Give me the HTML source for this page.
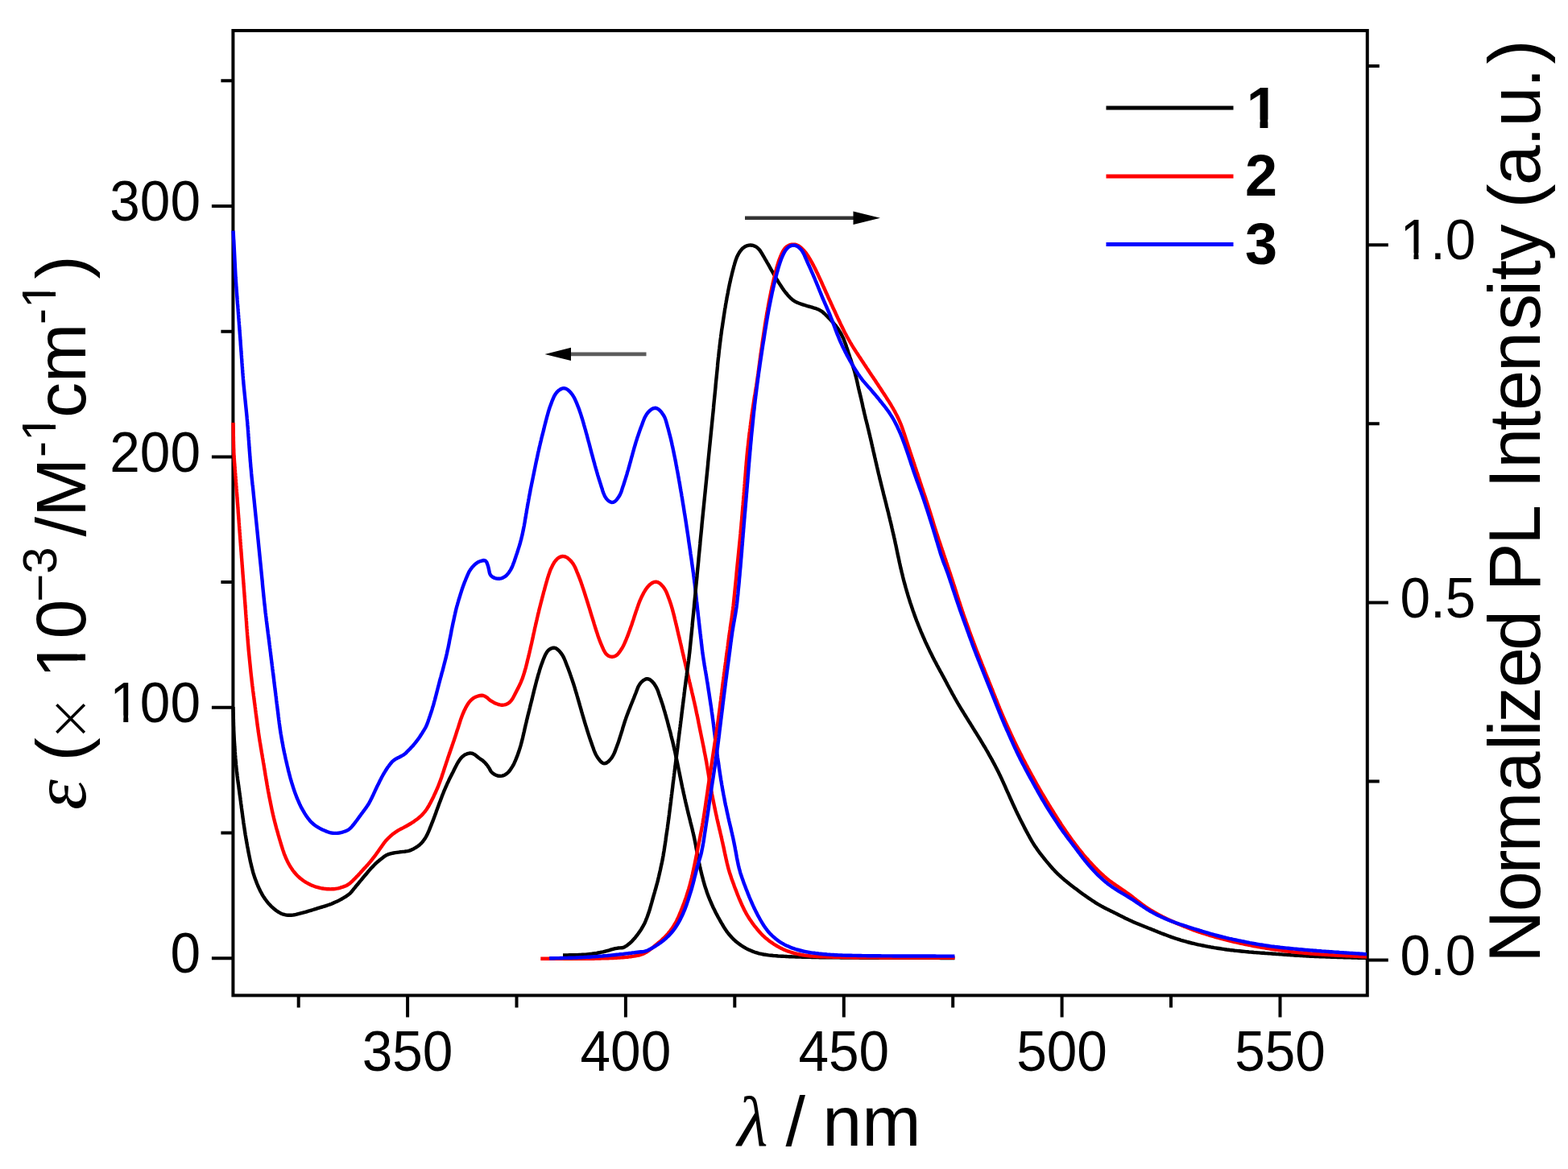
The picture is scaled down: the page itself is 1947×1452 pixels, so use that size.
<!DOCTYPE html>
<html><head><meta charset="utf-8"><title>Absorption and emission spectra</title>
<style>
html,body{margin:0;padding:0;background:#fff;}
body{width:1947px;height:1452px;overflow:hidden;}
svg{display:block;}
svg{font-family:"Liberation Sans",Arial,sans-serif;} text{fill:#000;}
</style></head><body>
<svg width="1947" height="1452" viewBox="0 0 1947 1452">
<defs><clipPath id="c1r70"><rect x="-10.25" y="-75.20" width="61.52" height="66.89"/><rect x="17.60" y="-75.20" width="6.19" height="78.61"/></clipPath><clipPath id="c1b72"><rect x="-10.55" y="-77.34" width="63.28" height="66.83"/><rect x="16.80" y="-77.34" width="9.88" height="80.86"/></clipPath><clipPath id="c1r88"><rect x="-12.89" y="-94.53" width="77.34" height="84.09"/><rect x="22.13" y="-94.53" width="7.78" height="98.83"/></clipPath><clipPath id="c1r60"><rect x="-8.79" y="-64.45" width="52.73" height="57.33"/><rect x="15.09" y="-64.45" width="5.30" height="67.38"/></clipPath></defs>
<rect x="0" y="0" width="1947" height="1452" fill="#fff"/>
<rect x="289.4" y="38.0" width="1408.4" height="1198.4" fill="none" stroke="#000" stroke-width="4.0"/>
<path d="M262.9 1190.2H289.4 M262.9 878.8H289.4 M262.9 567.4H289.4 M262.9 256.0H289.4 M274.4 1034.5H289.4 M274.4 723.1H289.4 M274.4 411.7H289.4 M274.4 100.3H289.4 M1697.8 1192.6H1723.8 M1697.8 748.4H1723.8 M1697.8 304.2H1723.8 M1697.8 970.5H1712.8 M1697.8 526.3H1712.8 M1697.8 82.1H1712.8 M506.1 1236.4V1263.4 M776.9 1236.4V1263.4 M1047.8 1236.4V1263.4 M1318.6 1236.4V1263.4 M1589.5 1236.4V1263.4 M370.7 1236.4V1251.4 M641.5 1236.4V1251.4 M912.3 1236.4V1251.4 M1183.2 1236.4V1251.4 M1454.0 1236.4V1251.4" stroke="#000" stroke-width="4" fill="none"/>
<g fill="none" stroke-linejoin="round" stroke-linecap="butt">
<path d="M289.5 878.0L289.5 880.0 289.6 882.0 289.6 884.0 289.7 886.0 289.7 888.0 289.8 890.0 289.8 892.0 289.9 894.0 289.9 896.0 290.0 898.0 290.0 900.0 290.1 902.0 290.2 904.0 290.2 906.0 290.3 908.0 290.4 910.0 290.5 912.0 290.6 914.0 290.7 916.0 290.8 918.0 290.9 920.0 291.0 922.0 291.2 924.0 291.3 926.0 291.4 928.0 291.6 930.0 291.7 931.9 291.8 933.9 292.0 935.9 292.1 937.9 292.3 939.9 292.4 941.9 292.6 943.9 292.8 945.9 293.0 947.9 293.1 949.9 293.3 951.9 293.5 953.9 293.7 955.9 293.9 957.8 294.2 959.8 294.4 961.8 294.6 963.8 294.9 965.8 295.1 967.8 295.4 969.8 295.6 971.7 295.9 973.7 296.2 975.7 296.5 977.7 296.7 979.7 297.0 981.6 297.3 983.6 297.5 985.6 297.8 987.6 298.1 989.6 298.4 991.6 298.6 993.5 298.9 995.5 299.1 997.5 299.4 999.5 299.7 1001.5 299.9 1003.5 300.2 1005.4 300.4 1007.4 300.7 1009.4 301.0 1011.4 301.2 1013.4 301.5 1015.3 301.8 1017.3 302.1 1019.3 302.3 1021.3 302.6 1023.3 302.9 1025.2 303.2 1027.2 303.5 1029.2 303.8 1031.2 304.1 1033.2 304.4 1035.1 304.7 1037.1 305.1 1039.1 305.4 1041.1 305.7 1043.0 306.1 1045.0 306.4 1047.0 306.8 1048.9 307.1 1050.9 307.5 1052.9 307.9 1054.8 308.2 1056.8 308.6 1058.8 309.0 1060.7 309.4 1062.7 309.8 1064.6 310.2 1066.6 310.6 1068.6 311.0 1070.5 311.5 1072.5 311.9 1074.4 312.4 1076.4 312.9 1078.3 313.4 1080.2 313.9 1082.2 314.4 1084.1 315.0 1086.0 315.6 1087.9 316.2 1089.8 316.9 1091.7 317.6 1093.6 318.3 1095.4 319.0 1097.3 319.8 1099.1 320.5 1101.0 321.4 1102.8 322.2 1104.6 323.1 1106.4 324.0 1108.2 325.0 1109.9 325.9 1111.7 327.0 1113.4 328.1 1115.0 329.2 1116.7 330.4 1118.3 331.6 1119.9 332.8 1121.4 334.2 1122.9 335.5 1124.4 336.9 1125.8 338.4 1127.2 339.9 1128.5 341.4 1129.7 343.0 1131.0 344.7 1132.1 346.3 1133.2 348.1 1134.2 349.9 1135.0 351.7 1135.7 353.7 1136.2 355.6 1136.6 357.6 1136.8 359.6 1136.8 361.6 1136.8 363.6 1136.6 365.6 1136.3 367.5 1135.9 369.5 1135.4 371.4 1134.9 373.3 1134.4 375.3 1133.9 377.2 1133.4 379.1 1132.9 381.0 1132.3 383.0 1131.7 384.9 1131.2 386.8 1130.6 388.7 1130.0 390.6 1129.4 392.5 1128.8 394.4 1128.2 396.3 1127.6 398.2 1127.0 400.2 1126.5 402.1 1125.9 404.0 1125.3 405.9 1124.7 407.8 1124.0 409.7 1123.4 411.5 1122.7 413.4 1121.9 415.2 1121.1 417.0 1120.3 418.8 1119.5 420.6 1118.6 422.4 1117.6 424.1 1116.7 425.9 1115.7 427.6 1114.7 429.3 1113.7 430.9 1112.5 432.5 1111.4 434.1 1110.1 435.5 1108.7 436.8 1107.3 438.1 1105.7 439.3 1104.1 440.6 1102.6 441.8 1101.0 443.1 1099.5 444.4 1098.0 445.7 1096.4 446.9 1094.9 448.2 1093.4 449.5 1091.8 450.8 1090.3 452.0 1088.7 453.3 1087.2 454.6 1085.7 455.9 1084.2 457.2 1082.6 458.5 1081.1 459.8 1079.6 461.2 1078.1 462.5 1076.7 463.9 1075.2 465.3 1073.8 466.7 1072.4 468.2 1071.0 469.7 1069.8 471.2 1068.5 472.8 1067.3 474.4 1066.1 476.0 1064.8 477.6 1063.6 479.2 1062.5 481.0 1061.6 482.9 1060.9 484.8 1060.4 486.7 1059.9 488.7 1059.5 490.6 1059.2 492.6 1058.9 494.6 1058.6 496.5 1058.3 498.5 1058.1 500.5 1057.9 502.4 1057.7 504.4 1057.4 506.4 1057.1 508.3 1056.6 510.2 1055.9 512.0 1055.1 513.8 1054.2 515.6 1053.2 517.2 1052.2 518.9 1051.0 520.5 1049.8 521.9 1048.5 523.4 1047.1 524.7 1045.6 525.9 1044.0 527.1 1042.4 528.2 1040.7 529.2 1039.0 530.1 1037.2 531.0 1035.4 531.8 1033.6 532.6 1031.8 533.4 1029.9 534.1 1028.1 534.9 1026.2 535.6 1024.4 536.3 1022.5 537.1 1020.7 537.8 1018.8 538.5 1016.9 539.2 1015.0 539.9 1013.2 540.6 1011.3 541.3 1009.4 541.9 1007.5 542.6 1005.7 543.3 1003.8 544.0 1001.9 544.7 1000.0 545.4 998.1 546.1 996.3 546.8 994.4 547.5 992.5 548.2 990.7 548.9 988.8 549.6 986.9 550.4 985.1 551.1 983.2 551.9 981.4 552.7 979.5 553.5 977.7 554.3 975.9 555.1 974.0 555.9 972.2 556.8 970.4 557.6 968.6 558.5 966.8 559.4 965.0 560.3 963.2 561.2 961.4 562.1 959.7 563.0 957.9 563.9 956.1 564.8 954.3 565.7 952.5 566.6 950.8 567.5 949.0 568.5 947.2 569.6 945.5 570.7 943.9 571.9 942.3 573.2 940.8 574.6 939.4 576.2 938.2 577.9 937.2 579.7 936.4 581.6 935.8 583.5 935.5 585.5 935.6 587.3 936.2 589.1 937.1 590.7 938.3 592.2 939.5 593.8 940.8 595.4 942.0 597.0 943.1 598.7 944.2 600.2 945.5 601.7 946.8 603.0 948.2 604.3 949.7 605.5 951.3 606.6 952.9 607.7 954.6 608.6 956.4 609.6 958.1 610.9 959.6 612.4 960.8 614.0 961.9 615.8 962.8 617.7 963.5 619.6 963.8 621.6 963.9 623.6 963.6 625.5 963.1 627.3 962.2 628.9 961.2 630.4 959.9 631.8 958.5 633.1 956.9 634.2 955.3 635.3 953.6 636.4 951.9 637.4 950.2 638.3 948.4 639.1 946.6 639.9 944.8 640.7 942.9 641.4 941.1 642.2 939.2 642.9 937.3 643.5 935.4 644.2 933.6 644.8 931.7 645.4 929.8 646.0 927.8 646.6 925.9 647.1 924.0 647.6 922.1 648.1 920.1 648.6 918.2 649.1 916.3 649.5 914.3 650.0 912.4 650.4 910.4 650.9 908.5 651.3 906.5 651.7 904.6 652.2 902.6 652.6 900.7 653.1 898.7 653.6 896.8 654.0 894.8 654.5 892.9 655.0 890.9 655.4 889.0 655.9 887.1 656.4 885.1 656.9 883.2 657.4 881.2 657.9 879.3 658.3 877.4 658.8 875.4 659.3 873.5 659.8 871.5 660.3 869.6 660.8 867.6 661.2 865.7 661.7 863.8 662.2 861.8 662.7 859.9 663.1 857.9 663.6 856.0 664.1 854.1 664.6 852.1 665.1 850.2 665.6 848.2 666.1 846.3 666.6 844.4 667.2 842.5 667.7 840.5 668.2 838.6 668.8 836.7 669.4 834.8 669.9 832.8 670.5 830.9 671.1 829.0 671.8 827.1 672.4 825.2 673.1 823.4 673.8 821.5 674.5 819.6 675.2 817.8 676.0 815.9 676.8 814.1 677.7 812.3 678.7 810.6 679.8 809.0 681.2 807.5 682.8 806.3 684.5 805.4 686.3 804.8 688.2 804.7 690.1 805.2 691.7 806.2 693.3 807.5 694.7 808.9 695.9 810.4 697.2 812.0 698.3 813.7 699.3 815.4 700.2 817.1 701.0 819.0 701.8 820.8 702.5 822.7 703.2 824.6 703.9 826.4 704.7 828.3 705.4 830.1 706.1 832.0 706.8 833.9 707.5 835.8 708.1 837.7 708.8 839.5 709.4 841.4 710.1 843.3 710.7 845.2 711.3 847.1 712.0 849.0 712.6 850.9 713.2 852.8 713.8 854.7 714.3 856.7 714.9 858.6 715.5 860.5 716.1 862.4 716.6 864.3 717.2 866.2 717.7 868.2 718.3 870.1 718.8 872.0 719.4 873.9 719.9 875.9 720.5 877.8 721.0 879.7 721.6 881.6 722.1 883.6 722.7 885.5 723.2 887.4 723.8 889.3 724.3 891.2 724.9 893.2 725.5 895.1 726.0 897.0 726.6 898.9 727.2 900.8 727.8 902.7 728.4 904.6 729.0 906.6 729.6 908.5 730.2 910.4 730.8 912.3 731.4 914.2 732.0 916.1 732.7 918.0 733.3 919.9 734.0 921.7 734.6 923.6 735.3 925.5 736.0 927.4 736.7 929.3 737.3 931.2 738.0 933.0 738.8 934.9 739.6 936.7 740.6 938.5 741.6 940.2 742.7 941.8 743.9 943.4 745.1 945.0 746.5 946.4 748.1 947.6 749.8 948.2 751.7 948.1 753.4 947.4 755.0 946.3 756.5 944.9 757.8 943.4 759.1 941.9 760.2 940.2 761.2 938.5 762.1 936.8 763.0 934.9 763.7 933.1 764.4 931.2 765.1 929.3 765.8 927.5 766.5 925.6 767.2 923.7 767.9 921.8 768.5 919.9 769.1 918.0 769.7 916.1 770.3 914.2 770.9 912.3 771.5 910.4 772.1 908.5 772.7 906.6 773.2 904.7 773.8 902.7 774.4 900.8 775.0 898.9 775.6 897.0 776.2 895.1 776.9 893.2 777.5 891.3 778.2 889.5 778.9 887.6 779.6 885.7 780.3 883.8 781.0 882.0 781.8 880.1 782.5 878.3 783.2 876.4 784.0 874.5 784.7 872.7 785.5 870.8 786.2 869.0 787.0 867.1 787.7 865.3 788.4 863.4 789.2 861.5 789.9 859.7 790.6 857.8 791.3 855.9 792.0 854.1 792.9 852.3 793.9 850.5 795.0 848.9 796.3 847.4 797.8 846.0 799.3 844.8 801.0 843.8 802.8 843.2 804.7 843.3 806.5 843.9 808.1 845.0 809.6 846.3 810.9 847.8 812.2 849.3 813.3 851.0 814.4 852.7 815.3 854.4 816.2 856.2 816.9 858.1 817.6 860.0 818.2 861.9 818.9 863.8 819.5 865.7 820.2 867.5 820.8 869.4 821.4 871.3 822.1 873.2 822.7 875.1 823.3 877.0 823.9 879.0 824.4 880.9 825.0 882.8 825.6 884.7 826.1 886.6 826.7 888.6 827.2 890.5 827.7 892.4 828.3 894.3 828.8 896.3 829.3 898.2 829.8 900.1 830.3 902.1 830.8 904.0 831.3 905.9 831.9 907.9 832.4 909.8 832.9 911.7 833.3 913.7 833.8 915.6 834.3 917.6 834.8 919.5 835.3 921.4 835.7 923.4 836.2 925.3 836.6 927.3 837.1 929.2 837.5 931.2 838.0 933.1 838.4 935.1 838.8 937.0 839.2 939.0 839.6 941.0 840.1 942.9 840.5 944.9 840.9 946.8 841.3 948.8 841.7 950.8 842.1 952.7 842.5 954.7 842.9 956.6 843.3 958.6 843.7 960.5 844.1 962.5 844.5 964.5 844.9 966.4 845.3 968.4 845.7 970.3 846.1 972.3 846.5 974.3 846.9 976.2 847.3 978.2 847.8 980.1 848.2 982.1 848.6 984.0 849.0 986.0 849.5 987.9 849.9 989.9 850.3 991.8 850.8 993.8 851.2 995.7 851.7 997.7 852.1 999.6 852.6 1001.6 853.1 1003.5 853.5 1005.5 854.0 1007.4 854.4 1009.4 854.9 1011.3 855.4 1013.3 855.9 1015.2 856.4 1017.1 856.9 1019.1 857.3 1021.0 857.8 1023.0 858.3 1024.9 858.8 1026.8 859.3 1028.8 859.8 1030.7 860.2 1032.7 860.7 1034.6 861.1 1036.6 861.6 1038.5 862.0 1040.5 862.4 1042.4 862.8 1044.4 863.2 1046.3 863.6 1048.3 864.0 1050.3 864.3 1052.2 864.7 1054.2 865.1 1056.2 865.5 1058.1 865.8 1060.1 866.2 1062.1 866.6 1064.0 866.9 1066.0 867.3 1067.9 867.7 1069.9 868.1 1071.9 868.5 1073.8 868.9 1075.8 869.4 1077.7 869.8 1079.7 870.3 1081.6 870.7 1083.6 871.2 1085.5 871.7 1087.5 872.2 1089.4 872.7 1091.3 873.2 1093.3 873.7 1095.2 874.3 1097.1 874.8 1099.0 875.4 1100.9 876.0 1102.8 876.7 1104.7 877.3 1106.6 877.9 1108.5 878.6 1110.4 879.3 1112.3 880.0 1114.2 880.8 1116.0 881.5 1117.9 882.3 1119.7 883.1 1121.5 883.9 1123.4 884.7 1125.2 885.5 1127.0 886.4 1128.8 887.3 1130.6 888.2 1132.4 889.1 1134.2 890.0 1135.9 891.0 1137.7 891.9 1139.5 892.9 1141.2 893.9 1143.0 894.8 1144.7 895.8 1146.4 896.9 1148.1 897.9 1149.9 898.9 1151.6 900.0 1153.3 901.1 1154.9 902.2 1156.6 903.4 1158.2 904.6 1159.8 905.9 1161.3 907.2 1162.8 908.5 1164.3 909.9 1165.7 911.3 1167.1 912.8 1168.5 914.3 1169.8 915.9 1171.0 917.5 1172.2 919.1 1173.4 920.7 1174.5 922.4 1175.6 924.1 1176.6 925.8 1177.6 927.6 1178.6 929.4 1179.5 931.2 1180.3 933.0 1181.1 934.9 1181.9 936.7 1182.5 938.6 1183.2 940.5 1183.7 942.5 1184.3 944.4 1184.7 946.4 1185.1 948.3 1185.5 950.3 1185.8 952.3 1186.1 954.2 1186.4 956.2 1186.6 958.2 1186.8 960.2 1187.0 962.2 1187.1 964.2 1187.3 966.2 1187.5 968.2 1187.6 970.2 1187.7 972.2 1187.8 974.2 1187.9 976.2 1188.0 978.2 1188.1 980.2 1188.2 982.2 1188.3 984.2 1188.4 986.2 1188.4 988.2 1188.5 990.2 1188.5 992.2 1188.6 994.1 1188.6 996.1 1188.7 998.1 1188.7 1000.1 1188.8 1002.1 1188.8 1004.1 1188.9 1006.1 1188.9 1008.1 1189.0 1010.1 1189.0 1012.1 1189.1 1014.1 1189.1 1016.1 1189.1 1018.1 1189.2 1020.1 1189.2 1022.1 1189.2 1024.1 1189.2 1026.1 1189.3 1028.1 1189.3 1030.1 1189.3 1032.1 1189.3 1034.1 1189.4 1036.1 1189.4 1038.1 1189.4 1040.1 1189.4 1042.1 1189.4 1044.1 1189.5 1046.1 1189.5 1048.1 1189.5 1050.1 1189.5 1052.1 1189.5 1054.1 1189.5 1056.1 1189.6 1058.1 1189.6 1060.1 1189.6 1062.1 1189.6 1064.1 1189.6 1066.1 1189.6 1068.1 1189.7 1070.1 1189.7 1072.1 1189.7 1074.1 1189.7 1076.1 1189.7 1078.1 1189.7 1080.1 1189.7 1082.1 1189.7 1084.1 1189.7 1086.1 1189.8 1088.1 1189.8 1090.1 1189.8 1092.1 1189.8 1094.1 1189.8 1096.1 1189.8 1098.1 1189.8 1100.1 1189.8 1102.1 1189.8 1104.1 1189.8 1106.1 1189.8 1108.1 1189.8 1110.1 1189.8 1112.1 1189.8 1114.1 1189.8 1116.1 1189.8 1118.1 1189.9 1120.1 1189.9 1122.1 1189.9 1124.1 1189.9 1126.1 1189.9 1128.1 1189.9 1130.1 1189.9 1132.1 1189.9 1134.1 1189.9 1136.1 1189.9 1138.1 1189.9 1140.1 1189.9 1142.1 1189.9 1144.1 1189.9 1146.1 1189.9 1148.1 1189.9 1150.1 1189.9 1152.1 1189.9 1154.1 1189.9 1156.1 1189.9 1158.1 1189.9 1160.1 1189.9 1162.1 1189.9 1164.1 1189.9 1166.1 1189.9 1168.1 1190.0 1170.1 1190.0 1172.1 1190.0 1174.0 1190.0 1176.0 1190.0 1177.9 1190.0 1179.8 1190.0 1181.7 1190.0 1183.5 1190.0 1185.4 1190.0" stroke="#000" stroke-width="4.4"/>
<path d="M289.5 525.0L289.5 527.0 289.6 529.0 289.6 531.0 289.7 533.0 289.7 535.0 289.7 537.0 289.8 539.0 289.8 541.0 289.9 543.0 289.9 545.0 289.9 547.0 290.0 549.0 290.0 551.0 290.1 553.0 290.1 555.0 290.2 557.0 290.3 559.0 290.3 561.0 290.4 563.0 290.5 565.0 290.6 567.0 290.8 569.0 290.9 571.0 291.0 573.0 291.2 575.0 291.3 577.0 291.5 578.9 291.7 580.9 291.8 582.9 292.0 584.9 292.1 586.9 292.3 588.9 292.4 590.9 292.6 592.9 292.7 594.9 292.9 596.9 293.0 598.9 293.2 600.9 293.3 602.9 293.5 604.9 293.6 606.9 293.8 608.9 293.9 610.9 294.1 612.8 294.2 614.8 294.4 616.8 294.5 618.8 294.7 620.8 294.8 622.8 295.0 624.8 295.1 626.8 295.3 628.8 295.4 630.8 295.6 632.8 295.7 634.8 295.8 636.8 296.0 638.8 296.1 640.8 296.3 642.8 296.4 644.8 296.6 646.8 296.7 648.7 296.9 650.7 297.0 652.7 297.2 654.7 297.3 656.7 297.5 658.7 297.6 660.7 297.8 662.7 297.9 664.7 298.1 666.7 298.2 668.7 298.4 670.7 298.5 672.7 298.7 674.7 298.8 676.7 299.0 678.7 299.1 680.7 299.3 682.7 299.4 684.6 299.6 686.6 299.7 688.6 299.9 690.6 300.0 692.6 300.2 694.6 300.3 696.6 300.5 698.6 300.6 700.6 300.8 702.6 300.9 704.6 301.1 706.6 301.2 708.6 301.4 710.6 301.5 712.6 301.7 714.6 301.8 716.6 302.0 718.6 302.1 720.5 302.3 722.5 302.4 724.5 302.6 726.5 302.7 728.5 302.9 730.5 303.0 732.5 303.2 734.5 303.3 736.5 303.5 738.5 303.6 740.5 303.8 742.5 303.9 744.5 304.1 746.5 304.2 748.5 304.4 750.5 304.5 752.5 304.7 754.5 304.8 756.4 305.0 758.4 305.1 760.4 305.2 762.4 305.4 764.4 305.5 766.4 305.7 768.4 305.8 770.4 306.0 772.4 306.1 774.4 306.2 776.4 306.4 778.4 306.5 780.4 306.7 782.4 306.8 784.4 307.0 786.4 307.1 788.4 307.3 790.4 307.5 792.3 307.6 794.3 307.8 796.3 307.9 798.3 308.1 800.3 308.3 802.3 308.5 804.3 308.6 806.3 308.8 808.3 309.0 810.3 309.2 812.3 309.4 814.3 309.6 816.3 309.8 818.2 310.0 820.2 310.2 822.2 310.4 824.2 310.6 826.2 310.8 828.2 311.0 830.2 311.2 832.2 311.4 834.2 311.6 836.2 311.8 838.1 312.0 840.1 312.3 842.1 312.5 844.1 312.7 846.1 312.9 848.1 313.2 850.1 313.4 852.0 313.7 854.0 313.9 856.0 314.1 858.0 314.4 860.0 314.7 862.0 314.9 864.0 315.2 865.9 315.4 867.9 315.7 869.9 315.9 871.9 316.2 873.9 316.5 875.9 316.7 877.8 317.0 879.8 317.2 881.8 317.5 883.8 317.7 885.8 318.0 887.8 318.2 889.7 318.5 891.7 318.8 893.7 319.0 895.7 319.3 897.7 319.5 899.7 319.8 901.6 320.1 903.6 320.4 905.6 320.6 907.6 320.9 909.6 321.2 911.5 321.5 913.5 321.8 915.5 322.1 917.5 322.4 919.4 322.7 921.4 323.1 923.4 323.4 925.4 323.7 927.3 324.0 929.3 324.4 931.3 324.7 933.3 325.0 935.2 325.4 937.2 325.7 939.2 326.0 941.1 326.4 943.1 326.7 945.1 327.0 947.1 327.4 949.0 327.7 951.0 328.0 953.0 328.3 955.0 328.7 956.9 329.0 958.9 329.3 960.9 329.6 962.9 330.0 964.8 330.3 966.8 330.6 968.8 331.0 970.7 331.3 972.7 331.6 974.7 332.0 976.7 332.3 978.6 332.7 980.6 333.0 982.6 333.4 984.5 333.8 986.5 334.1 988.5 334.5 990.4 334.9 992.4 335.3 994.3 335.7 996.3 336.1 998.3 336.5 1000.2 336.9 1002.2 337.3 1004.1 337.7 1006.1 338.1 1008.1 338.6 1010.0 339.0 1012.0 339.5 1013.9 339.9 1015.8 340.4 1017.8 340.9 1019.7 341.4 1021.7 341.9 1023.6 342.4 1025.5 342.9 1027.5 343.4 1029.4 344.0 1031.3 344.5 1033.2 345.1 1035.2 345.6 1037.1 346.2 1039.0 346.7 1040.9 347.3 1042.9 347.9 1044.8 348.4 1046.7 349.0 1048.6 349.6 1050.5 350.2 1052.4 350.8 1054.3 351.4 1056.2 352.1 1058.1 352.7 1060.0 353.4 1061.9 354.2 1063.7 354.9 1065.6 355.8 1067.4 356.6 1069.2 357.5 1071.0 358.4 1072.7 359.4 1074.5 360.4 1076.2 361.5 1077.9 362.6 1079.6 363.7 1081.2 364.9 1082.8 366.2 1084.3 367.5 1085.8 368.9 1087.3 370.3 1088.7 371.8 1090.0 373.3 1091.3 374.9 1092.5 376.5 1093.7 378.1 1094.8 379.8 1095.9 381.6 1096.9 383.3 1097.8 385.1 1098.7 386.9 1099.6 388.7 1100.3 390.6 1101.0 392.5 1101.7 394.4 1102.2 396.3 1102.7 398.3 1103.2 400.2 1103.5 402.2 1103.8 404.2 1104.0 406.2 1104.2 408.2 1104.3 410.2 1104.4 412.2 1104.3 414.2 1104.2 416.2 1104.0 418.1 1103.7 420.1 1103.3 422.0 1102.8 423.9 1102.2 425.8 1101.6 427.7 1100.9 429.6 1100.2 431.3 1099.3 433.0 1098.2 434.6 1097.0 436.1 1095.7 437.6 1094.3 439.0 1092.9 440.4 1091.5 441.8 1090.1 443.2 1088.6 444.6 1087.2 445.9 1085.7 447.3 1084.3 448.6 1082.8 450.0 1081.3 451.3 1079.8 452.7 1078.3 454.0 1076.9 455.3 1075.4 456.7 1073.9 458.0 1072.4 459.3 1070.9 460.6 1069.3 461.8 1067.8 463.1 1066.2 464.3 1064.7 465.5 1063.1 466.7 1061.5 467.9 1059.8 469.0 1058.2 470.2 1056.6 471.3 1054.9 472.5 1053.3 473.6 1051.7 474.8 1050.0 475.9 1048.4 477.1 1046.8 478.4 1045.2 479.6 1043.7 481.0 1042.2 482.4 1040.8 483.8 1039.5 485.3 1038.1 486.8 1036.8 488.4 1035.6 490.0 1034.4 491.6 1033.3 493.3 1032.2 495.0 1031.2 496.8 1030.2 498.5 1029.3 500.3 1028.4 502.1 1027.4 503.8 1026.5 505.6 1025.5 507.3 1024.5 509.0 1023.5 510.7 1022.5 512.4 1021.4 514.1 1020.3 515.7 1019.1 517.3 1017.9 518.9 1016.7 520.4 1015.5 521.9 1014.2 523.4 1012.8 524.8 1011.4 526.1 1009.9 527.4 1008.4 528.6 1006.8 529.8 1005.2 530.8 1003.5 531.9 1001.8 532.9 1000.1 533.8 998.3 534.8 996.6 535.7 994.8 536.6 993.0 537.5 991.2 538.4 989.4 539.2 987.6 540.1 985.8 540.9 984.0 541.7 982.2 542.5 980.3 543.3 978.5 544.1 976.6 544.8 974.8 545.5 972.9 546.2 971.1 546.9 969.2 547.6 967.3 548.3 965.4 548.9 963.5 549.5 961.6 550.2 959.7 550.8 957.8 551.4 955.9 552.0 954.0 552.7 952.1 553.3 950.2 553.9 948.3 554.5 946.4 555.2 944.5 555.8 942.6 556.4 940.7 557.1 938.8 557.7 936.9 558.4 935.1 559.0 933.2 559.7 931.3 560.3 929.4 561.0 927.5 561.6 925.6 562.3 923.7 562.9 921.8 563.6 919.9 564.2 918.0 564.9 916.1 565.5 914.2 566.1 912.3 566.7 910.4 567.3 908.5 567.9 906.6 568.6 904.7 569.2 902.8 569.8 900.9 570.4 899.0 571.0 897.1 571.6 895.2 572.2 893.3 572.9 891.4 573.6 889.5 574.3 887.7 575.1 885.8 575.9 884.0 576.7 882.2 577.6 880.4 578.5 878.6 579.5 876.9 580.5 875.2 581.6 873.5 582.8 871.9 584.1 870.4 585.5 869.0 587.1 867.7 588.7 866.7 590.5 865.7 592.3 865.0 594.3 864.4 596.2 864.0 598.2 863.8 600.1 864.0 602.0 864.7 603.7 865.8 605.3 866.9 606.8 868.3 608.3 869.6 609.9 870.7 611.6 871.7 613.3 872.7 615.1 873.6 617.0 874.3 618.9 875.0 620.8 875.4 622.8 875.7 624.8 875.7 626.7 875.4 628.6 874.9 630.4 874.0 632.1 872.9 633.5 871.6 634.8 870.1 636.0 868.5 637.0 866.8 638.0 865.0 638.9 863.3 639.8 861.5 640.7 859.7 641.6 857.9 642.6 856.1 643.5 854.4 644.4 852.6 645.2 850.8 646.1 849.0 646.9 847.1 647.6 845.3 648.4 843.4 649.1 841.6 649.7 839.7 650.3 837.8 650.9 835.9 651.5 834.0 652.0 832.0 652.6 830.1 653.1 828.2 653.6 826.2 654.1 824.3 654.6 822.4 655.0 820.4 655.5 818.5 656.0 816.5 656.5 814.6 656.9 812.6 657.4 810.7 657.8 808.8 658.3 806.8 658.7 804.9 659.2 802.9 659.6 801.0 660.1 799.0 660.5 797.1 660.9 795.1 661.4 793.1 661.8 791.2 662.2 789.2 662.6 787.3 663.1 785.3 663.5 783.4 663.9 781.4 664.3 779.5 664.8 777.5 665.2 775.6 665.7 773.6 666.1 771.7 666.6 769.7 667.0 767.8 667.5 765.8 667.9 763.9 668.4 761.9 668.9 760.0 669.3 758.0 669.8 756.1 670.3 754.2 670.8 752.2 671.3 750.3 671.8 748.3 672.3 746.4 672.8 744.5 673.3 742.5 673.8 740.6 674.3 738.7 674.8 736.7 675.3 734.8 675.9 732.9 676.4 730.9 676.9 729.0 677.4 727.1 678.0 725.2 678.5 723.2 679.1 721.3 679.6 719.4 680.2 717.5 680.8 715.6 681.4 713.7 682.1 711.8 682.7 709.9 683.4 708.0 684.2 706.2 685.1 704.4 686.0 702.6 686.9 700.8 687.9 699.1 689.0 697.5 690.2 695.9 691.6 694.4 693.1 693.1 694.8 692.1 696.6 691.4 698.5 691.0 700.5 691.1 702.3 691.7 704.1 692.6 705.7 693.8 707.2 695.1 708.6 696.5 709.9 698.0 711.1 699.6 712.2 701.2 713.2 703.0 714.1 704.7 714.9 706.6 715.7 708.4 716.4 710.3 717.2 712.1 717.9 714.0 718.7 715.8 719.4 717.7 720.1 719.6 720.8 721.4 721.5 723.3 722.1 725.2 722.8 727.1 723.4 729.0 724.1 730.9 724.7 732.8 725.3 734.7 725.9 736.6 726.5 738.5 727.1 740.4 727.7 742.3 728.3 744.2 728.9 746.1 729.5 748.0 730.1 749.9 730.7 751.9 731.3 753.8 731.9 755.7 732.5 757.6 733.0 759.5 733.6 761.4 734.2 763.3 734.8 765.3 735.4 767.2 736.0 769.1 736.6 771.0 737.2 772.9 737.7 774.8 738.3 776.7 738.9 778.6 739.5 780.5 740.1 782.4 740.7 784.3 741.4 786.2 742.0 788.1 742.6 790.0 743.3 791.9 744.0 793.8 744.6 795.7 745.4 797.5 746.1 799.4 746.9 801.2 747.7 803.1 748.5 804.9 749.3 806.7 750.2 808.5 751.2 810.2 752.4 811.9 753.7 813.3 755.3 814.5 757.1 815.3 759.0 815.7 760.9 815.7 762.8 815.3 764.6 814.5 766.2 813.4 767.6 812.0 768.8 810.4 770.0 808.8 771.1 807.1 772.2 805.5 773.2 803.7 774.1 802.0 775.0 800.1 775.8 798.3 776.6 796.5 777.4 794.6 778.1 792.8 778.9 790.9 779.6 789.1 780.3 787.2 781.0 785.3 781.7 783.5 782.4 781.6 783.0 779.7 783.7 777.8 784.4 775.9 785.0 774.0 785.6 772.1 786.3 770.2 786.9 768.3 787.5 766.4 788.1 764.5 788.8 762.6 789.4 760.7 790.0 758.8 790.7 757.0 791.3 755.1 792.0 753.2 792.6 751.3 793.3 749.4 794.0 747.5 794.8 745.7 795.6 743.9 796.4 742.1 797.3 740.3 798.2 738.5 799.1 736.7 800.1 735.0 801.1 733.3 802.2 731.6 803.4 730.0 804.7 728.4 806.0 727.0 807.5 725.7 809.1 724.5 810.9 723.5 812.7 722.9 814.6 722.7 816.5 723.1 818.3 723.9 819.9 725.1 821.3 726.4 822.7 727.9 823.9 729.4 825.1 731.1 826.1 732.8 827.0 734.5 827.9 736.4 828.6 738.2 829.3 740.1 830.0 742.0 830.7 743.8 831.4 745.7 832.0 747.6 832.7 749.5 833.3 751.4 833.9 753.3 834.4 755.2 835.0 757.1 835.5 759.1 836.0 761.0 836.5 762.9 837.0 764.9 837.5 766.8 837.9 768.8 838.4 770.7 838.9 772.7 839.3 774.6 839.8 776.5 840.3 778.5 840.7 780.4 841.2 782.4 841.6 784.3 842.1 786.3 842.5 788.2 843.0 790.2 843.5 792.1 843.9 794.1 844.4 796.0 844.8 798.0 845.3 799.9 845.7 801.9 846.2 803.8 846.6 805.8 847.1 807.7 847.5 809.7 848.0 811.6 848.4 813.6 848.9 815.5 849.3 817.5 849.8 819.4 850.2 821.3 850.7 823.3 851.1 825.2 851.6 827.2 852.0 829.1 852.5 831.1 853.0 833.0 853.4 835.0 853.9 836.9 854.3 838.9 854.8 840.8 855.2 842.8 855.7 844.7 856.1 846.7 856.6 848.6 857.1 850.6 857.5 852.5 858.0 854.5 858.4 856.4 858.9 858.3 859.3 860.3 859.8 862.2 860.3 864.2 860.7 866.1 861.2 868.1 861.6 870.0 862.1 872.0 862.5 873.9 862.9 875.9 863.4 877.8 863.8 879.8 864.2 881.7 864.6 883.7 865.0 885.7 865.4 887.6 865.9 889.6 866.3 891.5 866.7 893.5 867.1 895.5 867.4 897.4 867.8 899.4 868.2 901.3 868.6 903.3 869.0 905.3 869.4 907.2 869.8 909.2 870.2 911.1 870.6 913.1 871.0 915.1 871.4 917.0 871.8 919.0 872.2 920.9 872.6 922.9 873.0 924.9 873.4 926.8 873.8 928.8 874.2 930.7 874.5 932.7 874.9 934.7 875.3 936.6 875.7 938.6 876.1 940.6 876.4 942.5 876.8 944.5 877.2 946.5 877.5 948.4 877.8 950.4 878.2 952.4 878.5 954.3 878.8 956.3 879.2 958.3 879.5 960.3 879.8 962.2 880.1 964.2 880.5 966.2 880.8 968.2 881.1 970.1 881.5 972.1 881.8 974.1 882.1 976.0 882.5 978.0 882.9 980.0 883.2 981.9 883.6 983.9 883.9 985.9 884.3 987.8 884.7 989.8 885.1 991.8 885.5 993.7 885.9 995.7 886.3 997.7 886.7 999.6 887.1 1001.6 887.5 1003.5 887.9 1005.5 888.3 1007.4 888.7 1009.4 889.1 1011.4 889.6 1013.3 890.0 1015.3 890.4 1017.2 890.9 1019.2 891.3 1021.1 891.8 1023.1 892.2 1025.0 892.7 1027.0 893.1 1028.9 893.6 1030.9 894.1 1032.8 894.5 1034.7 895.0 1036.7 895.4 1038.6 895.9 1040.6 896.3 1042.5 896.7 1044.5 897.2 1046.4 897.6 1048.4 898.0 1050.4 898.5 1052.3 898.9 1054.3 899.3 1056.2 899.7 1058.2 900.1 1060.1 900.5 1062.1 901.0 1064.0 901.4 1066.0 901.8 1067.9 902.3 1069.9 902.7 1071.8 903.2 1073.8 903.7 1075.7 904.2 1077.7 904.7 1079.6 905.3 1081.5 905.8 1083.4 906.4 1085.3 907.1 1087.2 907.7 1089.1 908.3 1091.0 909.0 1092.9 909.7 1094.8 910.4 1096.7 911.1 1098.5 911.7 1100.4 912.4 1102.3 913.1 1104.2 913.9 1106.0 914.6 1107.9 915.3 1109.8 916.0 1111.6 916.8 1113.5 917.5 1115.3 918.3 1117.2 919.1 1119.0 919.9 1120.8 920.7 1122.7 921.5 1124.5 922.4 1126.3 923.2 1128.1 924.1 1129.9 925.0 1131.7 926.0 1133.4 926.9 1135.2 927.9 1136.9 929.0 1138.6 930.0 1140.3 931.1 1142.0 932.2 1143.6 933.4 1145.3 934.5 1146.9 935.7 1148.5 936.9 1150.1 938.2 1151.7 939.4 1153.2 940.7 1154.8 942.0 1156.3 943.3 1157.8 944.6 1159.3 946.0 1160.7 947.4 1162.1 948.9 1163.5 950.4 1164.8 951.9 1166.1 953.5 1167.3 955.0 1168.6 956.6 1169.7 958.3 1170.9 959.9 1172.0 961.6 1173.1 963.3 1174.1 965.0 1175.2 966.8 1176.1 968.5 1177.1 970.3 1178.0 972.1 1178.9 973.9 1179.7 975.8 1180.5 977.6 1181.2 979.5 1181.9 981.4 1182.5 983.3 1183.1 985.2 1183.7 987.1 1184.2 989.1 1184.7 991.0 1185.1 993.0 1185.5 994.9 1185.9 996.9 1186.3 998.9 1186.6 1000.8 1186.8 1002.8 1187.1 1004.8 1187.3 1006.8 1187.5 1008.8 1187.6 1010.8 1187.8 1012.8 1187.9 1014.8 1188.0 1016.8 1188.1 1018.8 1188.2 1020.8 1188.3 1022.8 1188.3 1024.8 1188.4 1026.8 1188.5 1028.8 1188.5 1030.8 1188.6 1032.8 1188.6 1034.8 1188.7 1036.8 1188.7 1038.8 1188.8 1040.8 1188.8 1042.8 1188.9 1044.8 1188.9 1046.8 1189.0 1048.8 1189.0 1050.8 1189.0 1052.8 1189.1 1054.8 1189.1 1056.8 1189.1 1058.8 1189.2 1060.8 1189.2 1062.8 1189.2 1064.8 1189.2 1066.8 1189.3 1068.8 1189.3 1070.8 1189.3 1072.8 1189.3 1074.8 1189.3 1076.8 1189.4 1078.8 1189.4 1080.7 1189.4 1082.7 1189.4 1084.7 1189.4 1086.7 1189.4 1088.7 1189.4 1090.7 1189.4 1092.7 1189.5 1094.7 1189.5 1096.7 1189.5 1098.7 1189.5 1100.7 1189.5 1102.7 1189.5 1104.7 1189.5 1106.7 1189.5 1108.7 1189.5 1110.7 1189.5 1112.7 1189.6 1114.7 1189.6 1116.7 1189.6 1118.7 1189.6 1120.7 1189.6 1122.7 1189.6 1124.7 1189.6 1126.7 1189.6 1128.7 1189.6 1130.7 1189.6 1132.7 1189.6 1134.7 1189.6 1136.7 1189.6 1138.7 1189.6 1140.7 1189.6 1142.7 1189.6 1144.7 1189.6 1146.7 1189.6 1148.7 1189.6 1150.7 1189.6 1152.7 1189.6 1154.7 1189.6 1156.7 1189.6 1158.7 1189.6 1160.7 1189.6 1162.7 1189.6 1164.7 1189.6 1166.7 1189.6 1168.7 1189.6 1170.7 1189.6 1172.7 1189.6 1174.7 1189.6 1176.7 1189.6 1178.6 1189.6 1180.6 1189.6 1182.5 1189.6 1184.4 1189.6 1185.4 1189.6" stroke="#f00" stroke-width="4.4"/>
<path d="M289.5 286.6L289.6 288.6 289.8 290.6 289.9 292.6 290.0 294.6 290.1 296.6 290.3 298.6 290.4 300.6 290.5 302.6 290.6 304.6 290.7 306.6 290.8 308.6 290.9 310.6 291.0 312.6 291.1 314.6 291.2 316.6 291.3 318.5 291.4 320.5 291.5 322.5 291.6 324.5 291.7 326.5 291.8 328.5 291.9 330.5 292.0 332.5 292.1 334.5 292.2 336.5 292.3 338.5 292.4 340.5 292.5 342.5 292.6 344.5 292.8 346.5 292.9 348.5 293.0 350.5 293.2 352.5 293.3 354.5 293.4 356.5 293.6 358.5 293.7 360.5 293.9 362.5 294.0 364.5 294.2 366.5 294.3 368.5 294.5 370.4 294.6 372.4 294.8 374.4 294.9 376.4 295.1 378.4 295.3 380.4 295.4 382.4 295.6 384.4 295.7 386.4 295.9 388.4 296.0 390.4 296.2 392.4 296.3 394.4 296.5 396.4 296.6 398.4 296.8 400.4 296.9 402.4 297.1 404.3 297.2 406.3 297.4 408.3 297.5 410.3 297.7 412.3 297.8 414.3 298.0 416.3 298.1 418.3 298.3 420.3 298.4 422.3 298.6 424.3 298.7 426.3 298.8 428.3 299.0 430.3 299.1 432.3 299.3 434.3 299.4 436.3 299.6 438.3 299.7 440.2 299.9 442.2 300.0 444.2 300.2 446.2 300.3 448.2 300.4 450.2 300.6 452.2 300.7 454.2 300.9 456.2 301.0 458.2 301.2 460.2 301.3 462.2 301.5 464.2 301.6 466.2 301.8 468.2 301.9 470.2 302.1 472.2 302.3 474.2 302.4 476.1 302.6 478.1 302.8 480.1 303.0 482.1 303.2 484.1 303.4 486.1 303.6 488.1 303.8 490.1 304.0 492.1 304.2 494.1 304.4 496.1 304.6 498.0 304.8 500.0 305.0 502.0 305.2 504.0 305.4 506.0 305.6 508.0 305.8 510.0 306.0 512.0 306.2 514.0 306.4 516.0 306.6 517.9 306.7 519.9 306.9 521.9 307.1 523.9 307.3 525.9 307.4 527.9 307.6 529.9 307.8 531.9 307.9 533.9 308.1 535.9 308.2 537.9 308.4 539.9 308.5 541.9 308.7 543.9 308.8 545.9 309.0 547.8 309.1 549.8 309.2 551.8 309.4 553.8 309.5 555.8 309.7 557.8 309.8 559.8 310.0 561.8 310.1 563.8 310.3 565.8 310.4 567.8 310.6 569.8 310.7 571.8 310.9 573.8 311.1 575.8 311.2 577.8 311.4 579.8 311.6 581.7 311.8 583.7 312.0 585.7 312.1 587.7 312.3 589.7 312.5 591.7 312.7 593.7 312.9 595.7 313.1 597.7 313.3 599.7 313.5 601.6 313.8 603.6 314.0 605.6 314.2 607.6 314.4 609.6 314.6 611.6 314.8 613.6 315.0 615.6 315.2 617.6 315.4 619.5 315.6 621.5 315.8 623.5 316.0 625.5 316.2 627.5 316.4 629.5 316.6 631.5 316.8 633.5 317.0 635.5 317.2 637.5 317.4 639.4 317.6 641.4 317.8 643.4 318.0 645.4 318.2 647.4 318.4 649.4 318.6 651.4 318.8 653.4 319.0 655.4 319.2 657.4 319.4 659.3 319.6 661.3 319.8 663.3 320.0 665.3 320.2 667.3 320.4 669.3 320.6 671.3 320.8 673.3 321.0 675.3 321.2 677.3 321.4 679.2 321.6 681.2 321.8 683.2 322.0 685.2 322.2 687.2 322.4 689.2 322.6 691.2 322.8 693.2 323.0 695.2 323.2 697.2 323.4 699.2 323.6 701.1 323.8 703.1 324.0 705.1 324.2 707.1 324.4 709.1 324.6 711.1 324.8 713.1 325.0 715.1 325.2 717.1 325.4 719.1 325.6 721.0 325.8 723.0 325.9 725.0 326.1 727.0 326.3 729.0 326.5 731.0 326.7 733.0 326.9 735.0 327.1 737.0 327.3 739.0 327.5 740.9 327.7 742.9 327.9 744.9 328.1 746.9 328.3 748.9 328.5 750.9 328.8 752.9 329.0 754.9 329.2 756.9 329.4 758.8 329.6 760.8 329.9 762.8 330.1 764.8 330.4 766.8 330.6 768.8 330.8 770.8 331.1 772.7 331.3 774.7 331.6 776.7 331.8 778.7 332.1 780.7 332.3 782.7 332.6 784.7 332.8 786.6 333.1 788.6 333.4 790.6 333.6 792.6 333.9 794.6 334.1 796.6 334.4 798.5 334.6 800.5 334.9 802.5 335.1 804.5 335.4 806.5 335.6 808.5 335.9 810.4 336.1 812.4 336.3 814.4 336.6 816.4 336.8 818.4 337.1 820.4 337.3 822.4 337.6 824.3 337.8 826.3 338.1 828.3 338.3 830.3 338.6 832.3 338.8 834.3 339.1 836.2 339.3 838.2 339.6 840.2 339.8 842.2 340.1 844.2 340.3 846.2 340.5 848.2 340.8 850.1 341.0 852.1 341.3 854.1 341.5 856.1 341.8 858.1 342.0 860.1 342.3 862.0 342.5 864.0 342.8 866.0 343.0 868.0 343.2 870.0 343.5 872.0 343.7 874.0 344.0 875.9 344.2 877.9 344.5 879.9 344.7 881.9 345.0 883.9 345.2 885.9 345.5 887.9 345.7 889.8 346.0 891.8 346.2 893.8 346.5 895.8 346.7 897.8 347.0 899.8 347.3 901.7 347.5 903.7 347.8 905.7 348.1 907.7 348.4 909.6 348.7 911.6 349.1 913.6 349.4 915.6 349.7 917.5 350.1 919.5 350.4 921.5 350.8 923.4 351.2 925.4 351.5 927.4 351.9 929.3 352.3 931.3 352.7 933.3 353.1 935.2 353.6 937.2 354.0 939.1 354.4 941.1 354.8 943.0 355.3 945.0 355.7 946.9 356.2 948.9 356.6 950.8 357.1 952.8 357.6 954.7 358.0 956.7 358.5 958.6 359.0 960.5 359.5 962.5 360.0 964.4 360.5 966.3 361.1 968.3 361.6 970.2 362.2 972.1 362.8 974.0 363.4 975.9 364.0 977.8 364.6 979.7 365.2 981.6 365.9 983.5 366.6 985.4 367.3 987.3 368.0 989.1 368.7 991.0 369.5 992.8 370.3 994.7 371.1 996.5 371.9 998.3 372.7 1000.1 373.6 1001.9 374.5 1003.7 375.5 1005.4 376.5 1007.2 377.5 1008.9 378.5 1010.6 379.6 1012.3 380.7 1013.9 381.9 1015.6 383.1 1017.2 384.3 1018.7 385.6 1020.2 387.0 1021.7 388.5 1023.0 390.0 1024.3 391.6 1025.5 393.3 1026.6 395.0 1027.6 396.7 1028.6 398.5 1029.6 400.2 1030.5 402.1 1031.3 403.9 1032.1 405.8 1032.9 407.6 1033.5 409.5 1034.1 411.5 1034.5 413.5 1034.8 415.5 1034.9 417.4 1034.9 419.4 1034.8 421.4 1034.5 423.4 1034.1 425.3 1033.6 427.2 1033.0 429.1 1032.4 430.9 1031.6 432.7 1030.6 434.2 1029.4 435.7 1028.1 437.0 1026.6 438.3 1025.0 439.6 1023.5 440.8 1021.9 442.0 1020.3 443.2 1018.7 444.4 1017.1 445.5 1015.5 446.7 1013.9 447.9 1012.3 449.1 1010.6 450.3 1009.0 451.5 1007.4 452.7 1005.8 453.8 1004.2 455.0 1002.6 456.1 1000.9 457.2 999.3 458.2 997.6 459.2 995.8 460.1 994.1 461.0 992.3 461.9 990.5 462.7 988.7 463.6 986.9 464.4 985.1 465.3 983.2 466.1 981.4 467.0 979.6 467.8 977.8 468.7 976.0 469.6 974.2 470.5 972.4 471.4 970.6 472.3 968.8 473.2 967.1 474.1 965.3 475.1 963.5 476.0 961.8 477.0 960.1 478.1 958.4 479.1 956.7 480.2 955.0 481.3 953.3 482.5 951.7 483.7 950.1 484.9 948.5 486.2 947.0 487.5 945.6 489.0 944.3 490.7 943.2 492.4 942.2 494.1 941.3 495.9 940.5 497.6 939.5 499.3 938.6 501.0 937.6 502.6 936.5 504.1 935.3 505.4 933.8 506.8 932.4 508.2 931.0 509.6 929.6 511.0 928.1 512.3 926.7 513.6 925.2 514.9 923.6 516.1 922.1 517.4 920.5 518.6 918.9 519.8 917.3 520.9 915.7 522.0 914.0 523.1 912.3 524.2 910.6 525.2 908.9 526.3 907.2 527.3 905.5 528.3 903.8 529.2 902.0 530.0 900.2 530.7 898.4 531.4 896.5 532.0 894.6 532.7 892.7 533.3 890.8 534.0 888.9 534.6 887.0 535.3 885.1 535.9 883.2 536.5 881.3 537.0 879.4 537.6 877.5 538.2 875.6 538.7 873.7 539.2 871.7 539.8 869.8 540.3 867.9 540.8 865.9 541.3 864.0 541.8 862.1 542.3 860.1 542.8 858.2 543.3 856.3 543.8 854.3 544.3 852.4 544.8 850.5 545.3 848.5 545.8 846.6 546.3 844.6 546.8 842.7 547.4 840.8 547.9 838.9 548.4 836.9 548.9 835.0 549.5 833.1 550.0 831.1 550.5 829.2 551.0 827.3 551.5 825.3 552.0 823.4 552.5 821.5 553.0 819.5 553.5 817.6 554.0 815.6 554.4 813.7 554.9 811.7 555.3 809.8 555.7 807.8 556.2 805.9 556.6 803.9 557.0 802.0 557.4 800.0 557.8 798.0 558.1 796.1 558.5 794.1 558.9 792.2 559.3 790.2 559.7 788.2 560.1 786.3 560.4 784.3 560.8 782.3 561.2 780.4 561.6 778.4 562.0 776.5 562.4 774.5 562.8 772.6 563.3 770.6 563.7 768.6 564.1 766.7 564.5 764.7 565.0 762.8 565.4 760.8 565.9 758.9 566.3 756.9 566.8 755.0 567.3 753.1 567.9 751.1 568.4 749.2 569.0 747.3 569.5 745.4 570.1 743.5 570.7 741.6 571.3 739.6 571.9 737.7 572.5 735.8 573.1 733.9 573.7 732.0 574.4 730.1 575.0 728.2 575.7 726.4 576.4 724.5 577.1 722.6 577.9 720.8 578.6 718.9 579.4 717.1 580.2 715.2 581.0 713.4 581.8 711.6 582.7 709.8 583.8 708.1 584.9 706.5 586.1 704.9 587.4 703.4 588.8 701.9 590.3 700.6 591.9 699.4 593.5 698.3 595.3 697.5 597.2 696.8 599.1 696.3 601.1 696.0 602.9 696.6 604.2 698.1 604.9 699.9 605.6 701.8 606.2 703.7 606.7 705.7 607.1 707.6 607.5 709.6 607.9 711.5 608.6 713.4 609.7 715.1 611.2 716.3 612.9 717.4 614.7 718.1 616.6 718.6 618.6 718.8 620.6 718.7 622.5 718.3 624.4 717.7 626.1 716.7 627.8 715.6 629.2 714.3 630.6 712.8 631.8 711.2 632.9 709.6 634.0 707.9 634.9 706.1 635.8 704.4 636.6 702.5 637.3 700.6 638.0 698.8 638.7 696.9 639.3 695.0 640.0 693.1 640.6 691.2 641.2 689.3 641.9 687.4 642.5 685.5 643.1 683.6 643.7 681.7 644.3 679.8 644.9 677.9 645.5 676.0 646.0 674.1 646.5 672.1 647.1 670.2 647.5 668.3 648.0 666.3 648.5 664.4 648.9 662.4 649.3 660.5 649.7 658.5 650.1 656.5 650.5 654.6 650.9 652.6 651.2 650.6 651.6 648.7 651.9 646.7 652.2 644.7 652.6 642.8 652.9 640.8 653.2 638.8 653.6 636.9 653.9 634.9 654.2 632.9 654.6 630.9 654.9 629.0 655.3 627.0 655.6 625.0 656.0 623.1 656.3 621.1 656.7 619.1 657.0 617.2 657.4 615.2 657.8 613.2 658.2 611.3 658.5 609.3 658.9 607.3 659.3 605.4 659.7 603.4 660.1 601.4 660.5 599.5 660.9 597.5 661.3 595.6 661.7 593.6 662.1 591.6 662.5 589.7 662.9 587.7 663.3 585.8 663.7 583.8 664.1 581.9 664.5 579.9 664.9 577.9 665.3 576.0 665.7 574.0 666.1 572.1 666.6 570.1 667.0 568.2 667.4 566.2 667.8 564.2 668.2 562.3 668.7 560.3 669.1 558.4 669.6 556.4 670.0 554.5 670.5 552.5 670.9 550.6 671.4 548.6 671.9 546.7 672.3 544.8 672.8 542.8 673.3 540.9 673.8 538.9 674.3 537.0 674.8 535.1 675.3 533.1 675.7 531.2 676.2 529.2 676.7 527.3 677.2 525.4 677.7 523.4 678.2 521.5 678.7 519.6 679.2 517.6 679.8 515.7 680.3 513.8 680.8 511.9 681.4 509.9 682.0 508.0 682.6 506.1 683.3 504.2 684.0 502.4 684.7 500.5 685.4 498.6 686.1 496.8 686.9 494.9 687.7 493.1 688.6 491.3 689.6 489.6 690.8 488.0 692.1 486.5 693.5 485.1 695.2 484.0 696.9 483.0 698.7 482.4 700.7 482.3 702.5 482.7 704.3 483.6 705.8 484.8 707.3 486.2 708.6 487.6 709.9 489.2 711.1 490.8 712.1 492.5 713.1 494.2 714.0 496.0 714.8 497.9 715.6 499.7 716.4 501.5 717.1 503.4 717.9 505.3 718.6 507.1 719.3 509.0 719.9 510.9 720.6 512.8 721.2 514.7 721.8 516.6 722.4 518.5 723.0 520.4 723.6 522.3 724.1 524.2 724.7 526.1 725.2 528.1 725.8 530.0 726.3 531.9 726.9 533.8 727.4 535.8 727.9 537.7 728.5 539.6 729.0 541.5 729.5 543.5 730.0 545.4 730.5 547.3 731.1 549.3 731.6 551.2 732.1 553.1 732.6 555.1 733.1 557.0 733.6 558.9 734.1 560.9 734.6 562.8 735.1 564.7 735.7 566.7 736.2 568.6 736.7 570.5 737.2 572.5 737.8 574.4 738.3 576.3 738.8 578.3 739.4 580.2 739.9 582.1 740.5 584.0 741.0 585.9 741.6 587.9 742.1 589.8 742.7 591.7 743.3 593.6 743.9 595.5 744.5 597.4 745.1 599.3 745.7 601.2 746.3 603.1 746.9 605.0 747.6 606.9 748.1 608.9 748.7 610.8 749.4 612.6 750.2 614.5 751.0 616.3 752.0 618.0 753.2 619.6 754.5 621.1 756.0 622.4 757.7 623.4 759.5 624.0 761.3 623.9 763.1 623.1 764.6 621.9 765.9 620.4 767.1 618.9 768.2 617.2 769.3 615.5 770.2 613.7 771.0 611.9 771.7 610.0 772.3 608.1 772.9 606.2 773.5 604.3 774.2 602.4 774.8 600.5 775.4 598.6 776.0 596.7 776.6 594.8 777.2 592.9 777.8 591.0 778.4 589.1 778.9 587.1 779.5 585.2 780.1 583.3 780.6 581.4 781.2 579.5 781.7 577.5 782.2 575.6 782.8 573.7 783.3 571.8 783.8 569.8 784.3 567.9 784.9 566.0 785.4 564.0 785.9 562.1 786.5 560.2 787.0 558.2 787.5 556.3 788.1 554.4 788.7 552.5 789.2 550.6 789.8 548.7 790.4 546.8 791.0 544.8 791.6 542.9 792.3 541.0 792.9 539.2 793.6 537.3 794.2 535.4 794.9 533.5 795.6 531.6 796.3 529.8 797.0 527.9 797.7 526.0 798.4 524.1 799.1 522.3 799.8 520.4 800.6 518.6 801.6 516.8 802.6 515.1 803.7 513.5 805.0 511.9 806.4 510.5 807.9 509.2 809.5 508.0 811.2 507.2 813.1 506.8 815.0 507.0 816.7 507.8 818.3 508.9 819.8 510.3 821.1 511.8 822.3 513.4 823.4 515.0 824.5 516.7 825.4 518.5 826.1 520.3 826.8 522.2 827.3 524.2 827.9 526.1 828.4 528.0 828.9 529.9 829.5 531.9 830.0 533.8 830.5 535.7 831.0 537.7 831.5 539.6 832.0 541.5 832.5 543.5 833.0 545.4 833.4 547.4 833.9 549.3 834.3 551.3 834.7 553.2 835.2 555.2 835.6 557.1 836.0 559.1 836.4 561.0 836.8 563.0 837.2 565.0 837.6 566.9 838.0 568.9 838.4 570.8 838.8 572.8 839.2 574.8 839.5 576.7 839.9 578.7 840.3 580.7 840.6 582.6 841.0 584.6 841.4 586.6 841.7 588.5 842.1 590.5 842.4 592.5 842.8 594.4 843.1 596.4 843.5 598.4 843.8 600.3 844.2 602.3 844.5 604.3 844.8 606.3 845.2 608.2 845.5 610.2 845.9 612.2 846.2 614.1 846.5 616.1 846.9 618.1 847.2 620.1 847.5 622.0 847.8 624.0 848.1 626.0 848.5 628.0 848.8 629.9 849.1 631.9 849.4 633.9 849.7 635.9 850.0 637.8 850.4 639.8 850.7 641.8 851.0 643.8 851.3 645.7 851.6 647.7 851.9 649.7 852.2 651.7 852.5 653.6 852.8 655.6 853.1 657.6 853.4 659.6 853.7 661.6 854.0 663.5 854.3 665.5 854.6 667.5 854.9 669.5 855.1 671.4 855.4 673.4 855.7 675.4 856.0 677.4 856.3 679.4 856.6 681.3 856.9 683.3 857.2 685.3 857.4 687.3 857.7 689.3 858.0 691.2 858.3 693.2 858.6 695.2 858.9 697.2 859.1 699.2 859.4 701.1 859.7 703.1 860.0 705.1 860.3 707.1 860.5 709.1 860.8 711.0 861.1 713.0 861.3 715.0 861.6 717.0 861.8 719.0 862.1 721.0 862.3 722.9 862.6 724.9 862.8 726.9 863.0 728.9 863.3 730.9 863.5 732.9 863.7 734.9 864.0 736.8 864.2 738.8 864.4 740.8 864.6 742.8 864.8 744.8 865.0 746.8 865.3 748.8 865.5 750.8 865.7 752.8 865.9 754.7 866.1 756.7 866.3 758.7 866.6 760.7 866.8 762.7 867.0 764.7 867.2 766.7 867.5 768.7 867.7 770.6 867.9 772.6 868.1 774.6 868.4 776.6 868.6 778.6 868.8 780.6 869.1 782.6 869.3 784.6 869.5 786.5 869.8 788.5 870.0 790.5 870.2 792.5 870.5 794.5 870.7 796.5 870.9 798.5 871.1 800.4 871.4 802.4 871.6 804.4 871.8 806.4 872.1 808.4 872.3 810.4 872.6 812.4 872.9 814.3 873.2 816.3 873.5 818.3 873.8 820.3 874.1 822.2 874.4 824.2 874.7 826.2 875.1 828.2 875.4 830.1 875.7 832.1 876.1 834.1 876.4 836.0 876.7 838.0 877.1 840.0 877.4 842.0 877.7 843.9 878.0 845.9 878.4 847.9 878.7 849.9 879.0 851.8 879.3 853.8 879.6 855.8 879.9 857.8 880.2 859.7 880.5 861.7 880.8 863.7 881.1 865.7 881.4 867.6 881.7 869.6 882.0 871.6 882.3 873.6 882.6 875.6 882.9 877.5 883.2 879.5 883.5 881.5 883.7 883.5 884.0 885.5 884.3 887.4 884.6 889.4 884.8 891.4 885.1 893.4 885.4 895.4 885.6 897.4 885.9 899.3 886.1 901.3 886.4 903.3 886.6 905.3 886.8 907.3 887.1 909.3 887.3 911.2 887.6 913.2 887.8 915.2 888.0 917.2 888.3 919.2 888.5 921.2 888.8 923.2 889.0 925.1 889.3 927.1 889.5 929.1 889.8 931.1 890.1 933.1 890.3 935.1 890.6 937.0 890.9 939.0 891.1 941.0 891.4 943.0 891.7 945.0 892.0 946.9 892.3 948.9 892.5 950.9 892.8 952.9 893.1 954.9 893.4 956.8 893.7 958.8 894.0 960.8 894.3 962.8 894.6 964.7 894.9 966.7 895.2 968.7 895.6 970.7 895.9 972.6 896.2 974.6 896.6 976.6 896.9 978.6 897.2 980.5 897.6 982.5 898.0 984.5 898.3 986.4 898.7 988.4 899.1 990.4 899.5 992.3 899.8 994.3 900.2 996.2 900.6 998.2 901.0 1000.2 901.5 1002.1 901.9 1004.1 902.3 1006.0 902.7 1008.0 903.1 1009.9 903.6 1011.9 904.0 1013.9 904.4 1015.8 904.9 1017.8 905.3 1019.7 905.8 1021.6 906.2 1023.6 906.7 1025.5 907.2 1027.5 907.6 1029.4 908.1 1031.4 908.5 1033.3 909.0 1035.3 909.4 1037.2 909.9 1039.2 910.3 1041.1 910.7 1043.1 911.1 1045.0 911.5 1047.0 911.9 1049.0 912.3 1050.9 912.7 1052.9 913.0 1054.9 913.4 1056.8 913.8 1058.8 914.1 1060.8 914.5 1062.7 914.8 1064.7 915.2 1066.7 915.6 1068.6 916.0 1070.6 916.4 1072.5 916.8 1074.5 917.3 1076.4 917.7 1078.4 918.3 1080.3 918.8 1082.2 919.3 1084.1 919.9 1086.1 920.6 1088.0 921.2 1089.8 921.9 1091.7 922.5 1093.6 923.2 1095.5 923.9 1097.4 924.6 1099.2 925.3 1101.1 926.0 1103.0 926.7 1104.8 927.5 1106.7 928.2 1108.6 928.9 1110.4 929.7 1112.3 930.4 1114.1 931.2 1116.0 932.0 1117.8 932.8 1119.7 933.6 1121.5 934.4 1123.3 935.2 1125.1 936.1 1127.0 936.9 1128.8 937.8 1130.6 938.7 1132.4 939.6 1134.1 940.5 1135.9 941.4 1137.7 942.4 1139.4 943.4 1141.2 944.3 1142.9 945.4 1144.6 946.4 1146.3 947.4 1148.0 948.5 1149.7 949.6 1151.4 950.8 1153.0 952.0 1154.6 953.2 1156.2 954.5 1157.7 955.8 1159.2 957.2 1160.6 958.6 1162.0 960.1 1163.4 961.6 1164.7 963.1 1166.0 964.7 1167.2 966.3 1168.4 967.9 1169.6 969.5 1170.7 971.2 1171.7 973.0 1172.7 974.7 1173.6 976.5 1174.5 978.4 1175.3 980.2 1176.1 982.0 1176.9 983.9 1177.6 985.8 1178.2 987.7 1178.9 989.6 1179.5 991.5 1180.0 993.4 1180.5 995.4 1181.0 997.3 1181.5 999.3 1181.9 1001.2 1182.3 1003.2 1182.6 1005.2 1183.0 1007.1 1183.3 1009.1 1183.6 1011.1 1183.8 1013.1 1184.1 1015.1 1184.3 1017.1 1184.6 1019.0 1184.8 1021.0 1185.0 1023.0 1185.2 1025.0 1185.3 1027.0 1185.5 1029.0 1185.6 1031.0 1185.8 1033.0 1185.9 1035.0 1186.0 1037.0 1186.2 1039.0 1186.3 1041.0 1186.4 1043.0 1186.4 1045.0 1186.5 1047.0 1186.6 1049.0 1186.6 1051.0 1186.7 1053.0 1186.7 1055.0 1186.8 1057.0 1186.8 1059.0 1186.9 1061.0 1186.9 1063.0 1186.9 1065.0 1187.0 1067.0 1187.0 1069.0 1187.0 1071.0 1187.1 1073.0 1187.1 1075.0 1187.1 1077.0 1187.2 1079.0 1187.2 1081.0 1187.2 1083.0 1187.2 1085.0 1187.3 1087.0 1187.3 1089.0 1187.3 1091.0 1187.3 1093.0 1187.3 1095.0 1187.4 1097.0 1187.4 1099.0 1187.4 1101.0 1187.4 1103.0 1187.4 1105.0 1187.4 1107.0 1187.4 1109.0 1187.5 1111.0 1187.5 1113.0 1187.5 1115.0 1187.5 1117.0 1187.5 1119.0 1187.5 1121.0 1187.5 1123.0 1187.5 1125.0 1187.5 1127.0 1187.5 1129.0 1187.5 1131.0 1187.5 1133.0 1187.5 1135.0 1187.5 1137.0 1187.5 1139.0 1187.5 1141.0 1187.5 1143.0 1187.5 1145.0 1187.5 1147.0 1187.5 1149.0 1187.5 1151.0 1187.5 1153.0 1187.5 1155.0 1187.5 1157.0 1187.5 1159.0 1187.5 1161.0 1187.5 1163.0 1187.6 1165.0 1187.6 1167.0 1187.6 1168.9 1187.6 1170.9 1187.6 1172.9 1187.6 1174.9 1187.6 1176.8 1187.6 1178.7 1187.6 1180.7 1187.6 1182.6 1187.6 1184.5 1187.6 1185.4 1187.6" stroke="#00f" stroke-width="4.4"/>
<path d="M699.0 1186.5L701.0 1186.5 703.0 1186.4 705.0 1186.4 707.0 1186.3 709.0 1186.3 711.0 1186.2 713.0 1186.2 715.0 1186.1 717.0 1186.1 719.0 1186.0 721.0 1185.9 723.0 1185.8 725.0 1185.7 727.0 1185.6 729.0 1185.4 731.0 1185.2 732.9 1185.0 734.9 1184.8 736.9 1184.5 738.9 1184.2 740.9 1183.9 742.8 1183.5 744.8 1183.1 746.7 1182.7 748.7 1182.3 750.6 1181.8 752.5 1181.3 754.5 1180.8 756.4 1180.3 758.3 1179.7 760.2 1179.2 762.1 1178.7 764.0 1178.2 766.0 1177.8 767.9 1177.5 769.9 1177.4 771.9 1177.3 773.8 1177.0 775.6 1176.2 777.3 1175.2 779.0 1174.0 780.5 1172.8 782.1 1171.5 783.6 1170.2 785.0 1168.8 786.3 1167.3 787.7 1165.8 788.9 1164.3 790.2 1162.7 791.4 1161.1 792.6 1159.5 793.7 1157.9 794.9 1156.3 796.0 1154.6 797.0 1152.9 798.0 1151.2 799.0 1149.4 799.9 1147.7 800.8 1145.9 801.6 1144.0 802.3 1142.2 803.1 1140.3 803.8 1138.5 804.5 1136.6 805.1 1134.7 805.8 1132.8 806.4 1130.9 807.0 1129.0 807.5 1127.1 808.1 1125.2 808.6 1123.2 809.2 1121.3 809.7 1119.4 810.2 1117.5 810.8 1115.5 811.3 1113.6 811.9 1111.7 812.4 1109.8 813.0 1107.8 813.5 1105.9 814.1 1104.0 814.6 1102.1 815.1 1100.1 815.7 1098.2 816.2 1096.3 816.7 1094.4 817.2 1092.4 817.6 1090.5 818.1 1088.5 818.5 1086.6 819.0 1084.6 819.4 1082.7 819.9 1080.7 820.3 1078.8 820.7 1076.8 821.1 1074.9 821.6 1072.9 822.0 1070.9 822.4 1069.0 822.8 1067.0 823.1 1065.1 823.5 1063.1 823.8 1061.1 824.1 1059.2 824.5 1057.2 824.8 1055.2 825.1 1053.2 825.4 1051.2 825.7 1049.3 826.0 1047.3 826.3 1045.3 826.6 1043.3 826.8 1041.4 827.1 1039.4 827.4 1037.4 827.7 1035.4 828.0 1033.4 828.3 1031.5 828.6 1029.5 828.9 1027.5 829.1 1025.5 829.4 1023.5 829.7 1021.6 829.9 1019.6 830.2 1017.6 830.5 1015.6 830.7 1013.6 831.0 1011.6 831.2 1009.7 831.5 1007.7 831.7 1005.7 832.0 1003.7 832.2 1001.7 832.5 999.7 832.7 997.8 833.0 995.8 833.2 993.8 833.4 991.8 833.7 989.8 833.9 987.8 834.2 985.8 834.4 983.9 834.7 981.9 834.9 979.9 835.2 977.9 835.4 975.9 835.6 973.9 835.9 971.9 836.1 970.0 836.4 968.0 836.6 966.0 836.9 964.0 837.1 962.0 837.4 960.0 837.6 958.1 837.9 956.1 838.1 954.1 838.4 952.1 838.6 950.1 838.9 948.1 839.1 946.1 839.4 944.2 839.6 942.2 839.9 940.2 840.1 938.2 840.4 936.2 840.6 934.2 840.9 932.3 841.1 930.3 841.4 928.3 841.6 926.3 841.8 924.3 842.1 922.3 842.3 920.3 842.6 918.4 842.8 916.4 843.1 914.4 843.3 912.4 843.6 910.4 843.8 908.4 844.1 906.5 844.3 904.5 844.6 902.5 844.8 900.5 845.1 898.5 845.3 896.5 845.6 894.5 845.8 892.6 846.1 890.6 846.3 888.6 846.5 886.6 846.8 884.6 847.0 882.6 847.3 880.7 847.5 878.7 847.8 876.7 848.0 874.7 848.3 872.7 848.5 870.7 848.8 868.7 849.0 866.8 849.3 864.8 849.5 862.8 849.7 860.8 850.0 858.8 850.2 856.8 850.5 854.9 850.7 852.9 851.0 850.9 851.3 848.9 851.5 846.9 851.8 844.9 852.0 843.0 852.3 841.0 852.6 839.0 852.8 837.0 853.1 835.0 853.4 833.0 853.6 831.1 853.9 829.1 854.2 827.1 854.4 825.1 854.7 823.1 855.0 821.1 855.2 819.2 855.5 817.2 855.7 815.2 855.9 813.2 856.2 811.2 856.4 809.2 856.6 807.2 856.8 805.3 857.0 803.3 857.2 801.3 857.4 799.3 857.6 797.3 857.8 795.3 858.0 793.3 858.2 791.3 858.4 789.3 858.6 787.3 858.8 785.4 859.0 783.4 859.2 781.4 859.4 779.4 859.6 777.4 859.7 775.4 859.9 773.4 860.1 771.4 860.3 769.4 860.5 767.4 860.7 765.4 860.9 763.5 861.1 761.5 861.3 759.5 861.5 757.5 861.7 755.5 861.9 753.5 862.0 751.5 862.2 749.5 862.4 747.5 862.6 745.5 862.8 743.5 863.0 741.6 863.2 739.6 863.4 737.6 863.6 735.6 863.7 733.6 863.9 731.6 864.1 729.6 864.3 727.6 864.5 725.6 864.7 723.6 864.9 721.6 865.1 719.7 865.3 717.7 865.5 715.7 865.6 713.7 865.8 711.7 866.0 709.7 866.2 707.7 866.4 705.7 866.6 703.7 866.8 701.7 867.0 699.7 867.2 697.8 867.4 695.8 867.5 693.8 867.7 691.8 867.9 689.8 868.1 687.8 868.3 685.8 868.5 683.8 868.7 681.8 868.9 679.8 869.1 677.8 869.3 675.9 869.4 673.9 869.6 671.9 869.8 669.9 870.0 667.9 870.2 665.9 870.4 663.9 870.6 661.9 870.8 659.9 871.0 657.9 871.2 655.9 871.4 654.0 871.5 652.0 871.7 650.0 871.9 648.0 872.1 646.0 872.3 644.0 872.5 642.0 872.7 640.0 872.9 638.0 873.1 636.0 873.3 634.1 873.5 632.1 873.7 630.1 873.9 628.1 874.1 626.1 874.3 624.1 874.5 622.1 874.7 620.1 874.9 618.1 875.1 616.1 875.3 614.1 875.5 612.2 875.7 610.2 875.9 608.2 876.1 606.2 876.3 604.2 876.5 602.2 876.7 600.2 876.9 598.2 877.1 596.2 877.3 594.2 877.5 592.3 877.7 590.3 877.9 588.3 878.1 586.3 878.3 584.3 878.5 582.3 878.7 580.3 878.9 578.3 879.1 576.3 879.2 574.3 879.4 572.4 879.6 570.4 879.8 568.4 880.0 566.4 880.2 564.4 880.4 562.4 880.6 560.4 880.8 558.4 881.0 556.4 881.2 554.4 881.4 552.5 881.6 550.5 881.8 548.5 882.0 546.5 882.2 544.5 882.4 542.5 882.6 540.5 882.8 538.5 883.0 536.5 883.2 534.5 883.4 532.6 883.6 530.6 883.8 528.6 884.0 526.6 884.2 524.6 884.4 522.6 884.6 520.6 884.8 518.6 885.0 516.6 885.2 514.6 885.4 512.7 885.6 510.7 885.8 508.7 886.0 506.7 886.1 504.7 886.3 502.7 886.5 500.7 886.7 498.7 886.9 496.7 887.1 494.7 887.3 492.7 887.5 490.8 887.7 488.8 887.9 486.8 888.1 484.8 888.3 482.8 888.5 480.8 888.6 478.8 888.8 476.8 889.0 474.8 889.2 472.8 889.4 470.8 889.6 468.9 889.8 466.9 890.0 464.9 890.2 462.9 890.4 460.9 890.6 458.9 890.8 456.9 891.0 454.9 891.1 452.9 891.3 450.9 891.5 448.9 891.7 447.0 891.9 445.0 892.2 443.0 892.4 441.0 892.6 439.0 892.8 437.0 893.0 435.0 893.3 433.0 893.5 431.1 893.7 429.1 894.0 427.1 894.2 425.1 894.5 423.1 894.7 421.1 895.0 419.1 895.2 417.2 895.5 415.2 895.8 413.2 896.0 411.2 896.3 409.2 896.6 407.3 896.9 405.3 897.2 403.3 897.5 401.3 897.8 399.3 898.1 397.4 898.4 395.4 898.7 393.4 899.0 391.4 899.3 389.5 899.6 387.5 899.9 385.5 900.2 383.5 900.6 381.6 900.9 379.6 901.2 377.6 901.6 375.7 901.9 373.7 902.3 371.7 902.6 369.7 903.0 367.8 903.4 365.8 903.8 363.9 904.1 361.9 904.5 359.9 904.9 358.0 905.3 356.0 905.7 354.0 906.1 352.1 906.6 350.1 907.0 348.2 907.4 346.2 907.9 344.3 908.4 342.3 908.8 340.4 909.3 338.5 909.8 336.5 910.3 334.6 910.8 332.7 911.3 330.7 911.9 328.8 912.4 326.9 913.0 325.0 913.6 323.1 914.3 321.2 915.0 319.3 915.9 317.5 916.8 315.7 917.8 314.0 918.9 312.3 920.1 310.7 921.4 309.2 922.8 307.9 924.4 306.7 926.2 305.8 928.0 305.1 930.0 304.6 931.9 304.5 933.9 304.7 935.8 305.2 937.6 305.9 939.4 306.9 940.9 308.1 942.3 309.5 943.6 311.0 944.7 312.7 945.8 314.4 946.8 316.1 947.8 317.8 948.8 319.5 949.8 321.3 950.8 323.0 951.8 324.7 952.8 326.5 953.8 328.2 954.8 329.9 955.8 331.7 956.7 333.4 957.7 335.2 958.7 336.9 959.7 338.6 960.7 340.4 961.7 342.1 962.7 343.8 963.7 345.6 964.7 347.3 965.8 349.0 966.8 350.7 967.9 352.4 969.0 354.1 970.1 355.7 971.2 357.4 972.3 359.0 973.5 360.7 974.7 362.3 975.9 363.8 977.2 365.3 978.5 366.9 979.8 368.3 981.2 369.8 982.7 371.1 984.2 372.4 985.8 373.6 987.5 374.6 989.3 375.5 991.1 376.3 993.0 377.0 994.9 377.7 996.8 378.3 998.7 378.9 1000.6 379.5 1002.5 380.1 1004.4 380.6 1006.3 381.2 1008.2 381.7 1010.2 382.3 1012.1 382.8 1013.9 383.5 1015.8 384.3 1017.6 385.1 1019.3 386.1 1021.0 387.2 1022.5 388.5 1024.0 389.8 1025.4 391.2 1026.8 392.6 1028.2 394.1 1029.6 395.5 1031.0 396.9 1032.3 398.4 1033.7 399.8 1035.0 401.3 1036.3 402.9 1037.6 404.4 1038.8 406.0 1040.0 407.6 1041.1 409.2 1042.1 410.9 1043.2 412.6 1044.2 414.4 1045.1 416.1 1046.0 417.9 1046.9 419.7 1047.7 421.5 1048.4 423.4 1049.1 425.2 1049.8 427.1 1050.5 429.0 1051.1 430.9 1051.8 432.8 1052.4 434.7 1053.0 436.6 1053.6 438.5 1054.3 440.4 1054.9 442.3 1055.5 444.2 1056.2 446.1 1056.8 448.0 1057.4 449.9 1058.0 451.8 1058.7 453.7 1059.3 455.6 1059.9 457.5 1060.5 459.4 1061.1 461.3 1061.6 463.2 1062.1 465.2 1062.6 467.1 1063.1 469.0 1063.6 471.0 1064.0 472.9 1064.5 474.9 1064.9 476.8 1065.3 478.8 1065.8 480.7 1066.2 482.7 1066.7 484.6 1067.1 486.6 1067.6 488.5 1068.1 490.4 1068.5 492.4 1069.0 494.3 1069.5 496.3 1069.9 498.2 1070.4 500.2 1070.8 502.1 1071.2 504.1 1071.6 506.0 1072.1 508.0 1072.5 509.9 1073.0 511.9 1073.4 513.8 1073.9 515.8 1074.4 517.7 1074.8 519.7 1075.3 521.6 1075.8 523.5 1076.3 525.5 1076.8 527.4 1077.3 529.4 1077.7 531.3 1078.2 533.2 1078.7 535.2 1079.1 537.1 1079.6 539.1 1080.1 541.0 1080.5 543.0 1081.0 544.9 1081.4 546.9 1081.9 548.8 1082.3 550.8 1082.8 552.7 1083.2 554.7 1083.7 556.6 1084.1 558.6 1084.5 560.5 1085.0 562.5 1085.4 564.4 1085.9 566.4 1086.3 568.3 1086.8 570.3 1087.2 572.2 1087.7 574.2 1088.1 576.1 1088.6 578.1 1089.0 580.0 1089.5 582.0 1089.9 583.9 1090.4 585.9 1090.8 587.8 1091.3 589.7 1091.8 591.7 1092.2 593.6 1092.7 595.6 1093.2 597.5 1093.7 599.5 1094.1 601.4 1094.6 603.3 1095.1 605.3 1095.6 607.2 1096.1 609.2 1096.6 611.1 1097.0 613.0 1097.5 615.0 1098.0 616.9 1098.5 618.9 1099.0 620.8 1099.5 622.7 1100.0 624.7 1100.5 626.6 1100.9 628.6 1101.4 630.5 1101.9 632.4 1102.4 634.4 1102.9 636.3 1103.4 638.3 1103.8 640.2 1104.3 642.2 1104.8 644.1 1105.2 646.0 1105.7 648.0 1106.2 649.9 1106.6 651.9 1107.1 653.8 1107.5 655.8 1108.0 657.7 1108.4 659.7 1108.9 661.6 1109.3 663.6 1109.8 665.5 1110.2 667.5 1110.7 669.4 1111.1 671.4 1111.5 673.3 1111.9 675.3 1112.4 677.2 1112.8 679.2 1113.2 681.2 1113.6 683.1 1114.0 685.1 1114.4 687.0 1114.8 689.0 1115.2 690.9 1115.7 692.9 1116.1 694.8 1116.5 696.8 1116.9 698.8 1117.4 700.7 1117.8 702.7 1118.2 704.6 1118.7 706.6 1119.2 708.5 1119.6 710.5 1120.1 712.4 1120.6 714.3 1121.0 716.3 1121.5 718.2 1122.0 720.2 1122.5 722.1 1123.0 724.0 1123.6 726.0 1124.1 727.9 1124.6 729.8 1125.2 731.7 1125.7 733.7 1126.3 735.6 1126.9 737.5 1127.4 739.4 1128.0 741.3 1128.6 743.2 1129.2 745.1 1129.8 747.0 1130.4 748.9 1131.1 750.8 1131.7 752.7 1132.3 754.6 1133.0 756.5 1133.6 758.4 1134.3 760.3 1135.0 762.2 1135.6 764.1 1136.3 765.9 1137.0 767.8 1137.7 769.7 1138.4 771.6 1139.2 773.4 1139.9 775.3 1140.6 777.1 1141.4 779.0 1142.1 780.9 1142.9 782.7 1143.6 784.6 1144.4 786.4 1145.2 788.2 1146.0 790.1 1146.8 791.9 1147.6 793.7 1148.4 795.6 1149.2 797.4 1150.1 799.2 1150.9 801.0 1151.8 802.8 1152.6 804.6 1153.5 806.4 1154.3 808.2 1155.2 810.0 1156.1 811.8 1157.0 813.6 1157.9 815.4 1158.8 817.2 1159.7 819.0 1160.6 820.8 1161.6 822.5 1162.5 824.3 1163.4 826.1 1164.4 827.8 1165.3 829.6 1166.3 831.3 1167.2 833.1 1168.2 834.8 1169.2 836.6 1170.1 838.4 1171.1 840.1 1172.0 841.9 1173.0 843.6 1173.9 845.4 1174.9 847.2 1175.8 848.9 1176.7 850.7 1177.7 852.5 1178.6 854.2 1179.6 856.0 1180.5 857.7 1181.5 859.5 1182.4 861.3 1183.4 863.0 1184.4 864.8 1185.3 866.5 1186.3 868.2 1187.3 870.0 1188.3 871.7 1189.3 873.5 1190.3 875.2 1191.3 876.9 1192.4 878.6 1193.4 880.3 1194.4 882.0 1195.5 883.7 1196.5 885.4 1197.6 887.1 1198.6 888.8 1199.7 890.5 1200.7 892.2 1201.8 893.9 1202.8 895.6 1203.9 897.3 1205.0 899.0 1206.0 900.7 1207.1 902.4 1208.1 904.1 1209.2 905.8 1210.2 907.5 1211.3 909.2 1212.4 910.9 1213.4 912.6 1214.5 914.3 1215.5 916.0 1216.6 917.7 1217.6 919.4 1218.6 921.1 1219.7 922.9 1220.7 924.6 1221.7 926.3 1222.8 928.0 1223.8 929.7 1224.8 931.5 1225.8 933.2 1226.8 934.9 1227.8 936.7 1228.7 938.4 1229.7 940.1 1230.7 941.9 1231.7 943.6 1232.6 945.4 1233.6 947.2 1234.5 948.9 1235.5 950.7 1236.4 952.5 1237.3 954.2 1238.2 956.0 1239.1 957.8 1240.0 959.6 1240.9 961.4 1241.8 963.2 1242.6 965.0 1243.5 966.8 1244.3 968.6 1245.1 970.4 1246.0 972.3 1246.8 974.1 1247.6 975.9 1248.4 977.7 1249.2 979.6 1250.0 981.4 1250.8 983.2 1251.7 985.0 1252.5 986.9 1253.3 988.7 1254.1 990.5 1254.9 992.3 1255.8 994.2 1256.6 996.0 1257.4 997.8 1258.2 999.6 1259.1 1001.4 1259.9 1003.3 1260.8 1005.1 1261.6 1006.9 1262.5 1008.7 1263.3 1010.5 1264.2 1012.3 1265.1 1014.1 1266.0 1015.9 1266.9 1017.7 1267.8 1019.5 1268.7 1021.2 1269.6 1023.0 1270.5 1024.8 1271.4 1026.6 1272.3 1028.4 1273.2 1030.1 1274.2 1031.9 1275.1 1033.7 1276.1 1035.4 1277.0 1037.2 1278.0 1038.9 1278.9 1040.7 1279.9 1042.4 1280.9 1044.2 1281.9 1045.9 1283.0 1047.6 1284.0 1049.3 1285.1 1050.9 1286.3 1052.6 1287.4 1054.2 1288.6 1055.9 1289.7 1057.5 1290.9 1059.1 1292.1 1060.7 1293.4 1062.3 1294.6 1063.8 1295.8 1065.4 1297.1 1067.0 1298.3 1068.5 1299.6 1070.1 1300.9 1071.6 1302.2 1073.1 1303.5 1074.7 1304.8 1076.2 1306.1 1077.7 1307.4 1079.2 1308.8 1080.6 1310.1 1082.1 1311.5 1083.5 1312.9 1084.9 1314.4 1086.3 1315.8 1087.7 1317.3 1089.0 1318.8 1090.4 1320.3 1091.7 1321.8 1093.0 1323.4 1094.2 1324.9 1095.5 1326.5 1096.8 1328.0 1098.0 1329.6 1099.2 1331.2 1100.5 1332.8 1101.7 1334.4 1102.9 1336.0 1104.1 1337.6 1105.3 1339.2 1106.5 1340.8 1107.7 1342.4 1108.9 1344.0 1110.1 1345.6 1111.2 1347.3 1112.4 1348.9 1113.5 1350.5 1114.7 1352.2 1115.8 1353.8 1116.9 1355.5 1118.0 1357.2 1119.2 1358.8 1120.2 1360.5 1121.3 1362.2 1122.4 1363.9 1123.4 1365.7 1124.4 1367.4 1125.4 1369.1 1126.3 1370.9 1127.3 1372.7 1128.2 1374.5 1129.1 1376.3 1130.0 1378.1 1130.9 1379.8 1131.8 1381.6 1132.6 1383.4 1133.5 1385.2 1134.4 1387.0 1135.3 1388.8 1136.2 1390.6 1137.1 1392.4 1138.0 1394.2 1138.9 1395.9 1139.8 1397.7 1140.7 1399.5 1141.5 1401.3 1142.4 1403.2 1143.3 1405.0 1144.1 1406.8 1144.9 1408.6 1145.7 1410.5 1146.5 1412.3 1147.2 1414.2 1148.0 1416.0 1148.8 1417.9 1149.5 1419.7 1150.2 1421.6 1151.0 1423.5 1151.7 1425.3 1152.5 1427.2 1153.2 1429.0 1153.9 1430.9 1154.7 1432.7 1155.4 1434.6 1156.2 1436.5 1156.9 1438.3 1157.7 1440.2 1158.4 1442.0 1159.2 1443.9 1159.9 1445.7 1160.6 1447.6 1161.3 1449.5 1162.0 1451.4 1162.7 1453.2 1163.4 1455.1 1164.1 1457.0 1164.7 1458.9 1165.4 1460.8 1166.0 1462.7 1166.6 1464.6 1167.2 1466.5 1167.8 1468.4 1168.3 1470.4 1168.9 1472.3 1169.4 1474.2 1170.0 1476.2 1170.5 1478.1 1171.0 1480.0 1171.5 1482.0 1171.9 1483.9 1172.4 1485.9 1172.8 1487.8 1173.3 1489.8 1173.7 1491.7 1174.1 1493.7 1174.5 1495.7 1174.9 1497.6 1175.3 1499.6 1175.7 1501.5 1176.0 1503.5 1176.4 1505.5 1176.7 1507.5 1177.1 1509.4 1177.4 1511.4 1177.7 1513.4 1178.0 1515.4 1178.3 1517.3 1178.6 1519.3 1178.9 1521.3 1179.2 1523.3 1179.5 1525.3 1179.7 1527.2 1180.0 1529.2 1180.2 1531.2 1180.4 1533.2 1180.7 1535.2 1180.9 1537.2 1181.1 1539.2 1181.3 1541.1 1181.5 1543.1 1181.7 1545.1 1181.9 1547.1 1182.1 1549.1 1182.3 1551.1 1182.5 1553.1 1182.6 1555.1 1182.8 1557.1 1183.0 1559.1 1183.1 1561.1 1183.3 1563.1 1183.4 1565.1 1183.6 1567.1 1183.7 1569.1 1183.8 1571.0 1184.0 1573.0 1184.1 1575.0 1184.3 1577.0 1184.4 1579.0 1184.5 1581.0 1184.7 1583.0 1184.8 1585.0 1185.0 1587.0 1185.1 1589.0 1185.3 1591.0 1185.4 1593.0 1185.6 1595.0 1185.7 1597.0 1185.8 1599.0 1186.0 1601.0 1186.1 1603.0 1186.3 1605.0 1186.4 1607.0 1186.5 1609.0 1186.7 1610.9 1186.8 1612.9 1186.9 1614.9 1187.0 1616.9 1187.1 1618.9 1187.3 1620.9 1187.4 1622.9 1187.5 1624.9 1187.6 1626.9 1187.7 1628.9 1187.8 1630.9 1187.9 1632.9 1188.0 1634.9 1188.1 1636.9 1188.1 1638.9 1188.2 1640.9 1188.3 1642.9 1188.4 1644.9 1188.4 1646.9 1188.5 1648.9 1188.6 1650.9 1188.6 1652.9 1188.7 1654.9 1188.8 1656.9 1188.8 1658.9 1188.9 1660.9 1189.0 1662.9 1189.0 1664.9 1189.1 1666.9 1189.1 1668.9 1189.2 1670.9 1189.2 1672.9 1189.3 1674.9 1189.4 1676.9 1189.4 1678.9 1189.5 1680.9 1189.5 1682.8 1189.6 1684.8 1189.6 1686.7 1189.7 1688.7 1189.7 1690.5 1189.8 1692.4 1189.9 1694.3 1189.9 1696.1 1190.0 1697.0 1190.0" stroke="#000" stroke-width="4.4"/>
<path d="M671.3 1190.8L673.3 1190.8 675.3 1190.8 677.3 1190.8 679.3 1190.8 681.3 1190.8 683.3 1190.8 685.3 1190.8 687.3 1190.8 689.3 1190.8 691.3 1190.8 693.3 1190.8 695.3 1190.9 697.3 1190.9 699.3 1190.9 701.3 1190.9 703.3 1190.9 705.3 1190.9 707.3 1190.9 709.3 1190.9 711.3 1190.9 713.3 1190.9 715.3 1190.9 717.3 1190.9 719.3 1190.9 721.3 1190.9 723.3 1190.9 725.3 1190.9 727.3 1190.8 729.3 1190.8 731.3 1190.8 733.3 1190.8 735.3 1190.7 737.3 1190.7 739.3 1190.6 741.3 1190.6 743.3 1190.5 745.3 1190.5 747.3 1190.4 749.3 1190.4 751.3 1190.3 753.3 1190.3 755.3 1190.2 757.3 1190.1 759.3 1190.0 761.3 1190.0 763.3 1189.9 765.3 1189.8 767.3 1189.6 769.3 1189.5 771.3 1189.4 773.3 1189.2 775.3 1189.1 777.2 1188.9 779.2 1188.7 781.2 1188.4 783.2 1188.2 785.2 1187.9 787.1 1187.6 789.1 1187.3 791.1 1186.9 793.0 1186.5 794.9 1186.0 796.8 1185.4 798.7 1184.7 800.5 1183.8 802.3 1182.9 804.0 1181.8 805.6 1180.7 807.2 1179.5 808.8 1178.3 810.4 1177.1 811.9 1175.8 813.5 1174.5 815.0 1173.3 816.5 1172.0 818.0 1170.7 819.6 1169.4 821.1 1168.1 822.5 1166.7 824.0 1165.3 825.4 1164.0 826.8 1162.5 828.2 1161.1 829.5 1159.6 830.8 1158.0 832.0 1156.5 833.2 1154.9 834.4 1153.3 835.5 1151.6 836.6 1149.9 837.6 1148.2 838.6 1146.5 839.6 1144.8 840.5 1143.0 841.3 1141.2 842.2 1139.4 843.0 1137.5 843.8 1135.7 844.5 1133.9 845.3 1132.0 846.0 1130.2 846.8 1128.3 847.5 1126.4 848.2 1124.6 849.0 1122.7 849.7 1120.8 850.3 1119.0 851.0 1117.1 851.7 1115.2 852.3 1113.3 852.9 1111.4 853.5 1109.5 854.1 1107.6 854.7 1105.7 855.3 1103.8 855.8 1101.8 856.4 1099.9 856.9 1098.0 857.4 1096.0 857.9 1094.1 858.4 1092.2 858.9 1090.2 859.3 1088.3 859.8 1086.3 860.2 1084.4 860.7 1082.4 861.1 1080.5 861.5 1078.5 861.9 1076.6 862.3 1074.6 862.7 1072.7 863.1 1070.7 863.5 1068.7 863.9 1066.8 864.3 1064.8 864.7 1062.8 865.1 1060.9 865.4 1058.9 865.8 1057.0 866.2 1055.0 866.6 1053.0 867.0 1051.1 867.4 1049.1 867.8 1047.1 868.2 1045.2 868.6 1043.2 869.0 1041.3 869.4 1039.3 869.8 1037.3 870.1 1035.4 870.5 1033.4 870.9 1031.5 871.3 1029.5 871.6 1027.5 872.0 1025.6 872.3 1023.6 872.7 1021.6 873.0 1019.6 873.3 1017.7 873.7 1015.7 874.0 1013.7 874.3 1011.7 874.6 1009.8 874.9 1007.8 875.2 1005.8 875.5 1003.8 875.8 1001.9 876.1 999.9 876.4 997.9 876.7 995.9 876.9 993.9 877.2 992.0 877.5 990.0 877.8 988.0 878.1 986.0 878.4 984.0 878.7 982.1 878.9 980.1 879.2 978.1 879.5 976.1 879.8 974.2 880.1 972.2 880.4 970.2 880.7 968.2 881.0 966.2 881.3 964.3 881.6 962.3 881.9 960.3 882.2 958.3 882.5 956.3 882.8 954.4 883.1 952.4 883.4 950.4 883.7 948.4 884.0 946.5 884.3 944.5 884.6 942.5 884.9 940.5 885.2 938.5 885.5 936.6 885.8 934.6 886.1 932.6 886.4 930.6 886.7 928.7 887.0 926.7 887.3 924.7 887.6 922.7 887.9 920.8 888.2 918.8 888.5 916.8 888.8 914.8 889.1 912.8 889.4 910.9 889.7 908.9 890.0 906.9 890.3 904.9 890.6 903.0 890.8 901.0 891.1 899.0 891.4 897.0 891.7 895.0 892.0 893.1 892.2 891.1 892.5 889.1 892.8 887.1 893.0 885.1 893.3 883.1 893.6 881.2 893.8 879.2 894.1 877.2 894.3 875.2 894.6 873.2 894.8 871.2 895.1 869.3 895.3 867.3 895.5 865.3 895.8 863.3 896.0 861.3 896.3 859.3 896.5 857.3 896.8 855.4 897.0 853.4 897.2 851.4 897.5 849.4 897.8 847.4 898.0 845.4 898.3 843.5 898.5 841.5 898.8 839.5 899.0 837.5 899.3 835.5 899.6 833.5 899.8 831.6 900.1 829.6 900.4 827.6 900.6 825.6 900.9 823.6 901.2 821.6 901.4 819.7 901.7 817.7 901.9 815.7 902.2 813.7 902.5 811.7 902.7 809.7 903.0 807.8 903.3 805.8 903.5 803.8 903.8 801.8 904.0 799.8 904.3 797.9 904.6 795.9 904.8 793.9 905.1 791.9 905.4 789.9 905.6 787.9 905.9 786.0 906.2 784.0 906.5 782.0 906.7 780.0 907.0 778.0 907.3 776.1 907.6 774.1 907.9 772.1 908.2 770.1 908.5 768.1 908.8 766.2 909.0 764.2 909.3 762.2 909.6 760.2 909.8 758.2 910.1 756.3 910.3 754.3 910.6 752.3 910.8 750.3 911.0 748.3 911.2 746.3 911.4 744.3 911.6 742.3 911.8 740.4 912.0 738.4 912.2 736.4 912.4 734.4 912.6 732.4 912.8 730.4 913.0 728.4 913.2 726.4 913.4 724.4 913.6 722.4 913.8 720.4 914.0 718.5 914.2 716.5 914.4 714.5 914.5 712.5 914.7 710.5 914.9 708.5 915.1 706.5 915.3 704.5 915.5 702.5 915.7 700.5 915.9 698.6 916.1 696.6 916.3 694.6 916.5 692.6 916.7 690.6 916.9 688.6 917.1 686.6 917.3 684.6 917.5 682.6 917.7 680.6 917.9 678.7 918.1 676.7 918.3 674.7 918.5 672.7 918.7 670.7 918.9 668.7 919.1 666.7 919.3 664.7 919.5 662.7 919.6 660.7 919.8 658.7 920.0 656.8 920.2 654.8 920.4 652.8 920.5 650.8 920.7 648.8 920.9 646.8 921.1 644.8 921.2 642.8 921.4 640.8 921.6 638.8 921.7 636.8 921.9 634.8 922.1 632.8 922.2 630.8 922.4 628.9 922.6 626.9 922.7 624.9 922.9 622.9 923.1 620.9 923.2 618.9 923.4 616.9 923.6 614.9 923.7 612.9 923.9 610.9 924.0 608.9 924.2 606.9 924.4 604.9 924.5 602.9 924.7 600.9 924.8 599.0 925.0 597.0 925.1 595.0 925.3 593.0 925.5 591.0 925.6 589.0 925.8 587.0 925.9 585.0 926.1 583.0 926.2 581.0 926.4 579.0 926.6 577.0 926.7 575.0 926.9 573.0 927.1 571.0 927.3 569.1 927.4 567.1 927.6 565.1 927.8 563.1 928.0 561.1 928.2 559.1 928.4 557.1 928.7 555.1 928.9 553.1 929.1 551.1 929.3 549.2 929.5 547.2 929.8 545.2 930.0 543.2 930.2 541.2 930.5 539.2 930.7 537.2 931.0 535.3 931.2 533.3 931.5 531.3 931.7 529.3 932.0 527.3 932.2 525.3 932.5 523.4 932.8 521.4 933.0 519.4 933.3 517.4 933.6 515.4 933.8 513.4 934.1 511.5 934.4 509.5 934.7 507.5 935.0 505.5 935.3 503.5 935.6 501.6 935.9 499.6 936.2 497.6 936.5 495.6 936.8 493.7 937.1 491.7 937.5 489.7 937.8 487.8 938.1 485.8 938.4 483.8 938.7 481.8 939.1 479.9 939.4 477.9 939.7 475.9 940.0 473.9 940.2 471.9 940.5 470.0 940.8 468.0 941.1 466.0 941.4 464.0 941.6 462.0 941.9 460.1 942.2 458.1 942.4 456.1 942.7 454.1 943.0 452.1 943.2 450.1 943.5 448.2 943.8 446.2 944.0 444.2 944.3 442.2 944.6 440.2 944.8 438.3 945.1 436.3 945.4 434.3 945.7 432.3 946.0 430.3 946.3 428.4 946.5 426.4 946.8 424.4 947.1 422.4 947.4 420.4 947.7 418.5 948.0 416.5 948.3 414.5 948.6 412.5 948.9 410.5 949.2 408.6 949.5 406.6 949.8 404.6 950.1 402.6 950.4 400.7 950.7 398.7 951.0 396.7 951.4 394.7 951.7 392.8 952.0 390.8 952.4 388.8 952.7 386.9 953.1 384.9 953.4 382.9 953.8 380.9 954.1 379.0 954.5 377.0 954.9 375.0 955.2 373.1 955.6 371.1 956.0 369.2 956.4 367.2 956.8 365.2 957.2 363.3 957.6 361.3 958.0 359.4 958.4 357.4 958.8 355.5 959.3 353.5 959.7 351.6 960.2 349.6 960.6 347.7 961.1 345.7 961.6 343.8 962.0 341.8 962.5 339.9 963.0 337.9 963.5 336.0 964.0 334.1 964.6 332.2 965.1 330.2 965.7 328.3 966.3 326.4 966.9 324.5 967.6 322.6 968.3 320.8 969.0 318.9 969.8 317.1 970.6 315.2 971.5 313.4 972.4 311.7 973.5 310.0 974.7 308.4 976.1 307.0 977.6 305.8 979.4 304.8 981.2 304.2 983.2 303.7 985.1 303.6 987.1 303.7 989.0 304.2 990.8 305.0 992.5 306.0 994.1 307.2 995.6 308.6 997.0 310.0 998.4 311.4 999.7 312.9 1001.0 314.4 1002.1 316.1 1003.2 317.8 1004.3 319.5 1005.3 321.2 1006.3 322.9 1007.3 324.6 1008.3 326.4 1009.2 328.1 1010.2 329.9 1011.1 331.7 1012.0 333.4 1012.9 335.2 1013.7 337.0 1014.6 338.8 1015.5 340.6 1016.3 342.4 1017.2 344.3 1018.0 346.1 1018.9 347.9 1019.7 349.7 1020.5 351.5 1021.3 353.4 1022.1 355.2 1023.0 357.0 1023.8 358.8 1024.6 360.7 1025.4 362.5 1026.2 364.3 1027.1 366.1 1027.9 367.9 1028.7 369.8 1029.5 371.6 1030.4 373.4 1031.2 375.2 1032.0 377.0 1032.9 378.9 1033.7 380.7 1034.5 382.5 1035.4 384.3 1036.2 386.1 1037.1 387.9 1037.9 389.8 1038.7 391.6 1039.6 393.4 1040.4 395.2 1041.3 397.0 1042.1 398.8 1043.0 400.6 1043.8 402.4 1044.7 404.2 1045.6 406.0 1046.4 407.8 1047.3 409.6 1048.2 411.4 1049.1 413.2 1050.1 415.0 1051.0 416.7 1051.9 418.5 1052.9 420.2 1053.9 422.0 1054.9 423.7 1055.9 425.5 1056.9 427.2 1057.9 428.9 1059.0 430.6 1060.0 432.3 1061.1 434.0 1062.2 435.7 1063.3 437.4 1064.4 439.0 1065.5 440.7 1066.6 442.4 1067.7 444.0 1068.8 445.7 1069.9 447.4 1071.0 449.0 1072.1 450.7 1073.2 452.4 1074.3 454.0 1075.4 455.7 1076.5 457.4 1077.6 459.0 1078.7 460.7 1079.8 462.4 1080.9 464.0 1082.0 465.7 1083.2 467.4 1084.3 469.0 1085.4 470.7 1086.5 472.3 1087.6 474.0 1088.7 475.7 1089.8 477.3 1090.9 479.0 1092.0 480.7 1093.1 482.3 1094.2 484.0 1095.3 485.7 1096.4 487.4 1097.5 489.0 1098.6 490.7 1099.7 492.4 1100.8 494.1 1101.8 495.8 1102.9 497.4 1104.0 499.1 1105.0 500.8 1106.1 502.5 1107.1 504.3 1108.1 506.0 1109.1 507.7 1110.1 509.5 1111.1 511.2 1112.0 513.0 1112.9 514.7 1113.9 516.5 1114.7 518.3 1115.6 520.1 1116.4 521.9 1117.2 523.7 1118.0 525.6 1118.8 527.4 1119.5 529.3 1120.2 531.2 1120.9 533.1 1121.5 534.9 1122.1 536.8 1122.8 538.7 1123.4 540.6 1124.0 542.5 1124.6 544.4 1125.2 546.3 1125.9 548.2 1126.5 550.1 1127.1 552.0 1127.7 553.9 1128.3 555.8 1129.0 557.7 1129.6 559.6 1130.2 561.5 1130.9 563.4 1131.5 565.3 1132.1 567.2 1132.7 569.1 1133.4 571.0 1134.0 572.9 1134.6 574.8 1135.3 576.7 1135.9 578.6 1136.5 580.5 1137.2 582.4 1137.8 584.3 1138.4 586.2 1139.1 588.1 1139.7 590.0 1140.3 591.9 1141.0 593.8 1141.6 595.7 1142.2 597.6 1142.8 599.5 1143.5 601.4 1144.1 603.3 1144.7 605.2 1145.4 607.1 1146.0 609.0 1146.6 610.9 1147.3 612.8 1147.9 614.7 1148.6 616.6 1149.2 618.5 1149.8 620.4 1150.4 622.3 1151.1 624.2 1151.7 626.1 1152.3 628.0 1152.9 629.9 1153.5 631.8 1154.1 633.7 1154.7 635.6 1155.3 637.5 1155.9 639.4 1156.5 641.3 1157.1 643.2 1157.7 645.1 1158.3 647.1 1158.8 649.0 1159.4 650.9 1160.0 652.8 1160.6 654.7 1161.2 656.6 1161.8 658.5 1162.4 660.4 1163.0 662.3 1163.7 664.2 1164.3 666.1 1164.9 668.0 1165.5 669.9 1166.2 671.8 1166.8 673.7 1167.4 675.6 1168.1 677.5 1168.7 679.4 1169.4 681.3 1170.0 683.2 1170.7 685.1 1171.3 687.0 1171.9 688.9 1172.6 690.8 1173.2 692.7 1173.9 694.6 1174.5 696.5 1175.1 698.4 1175.8 700.3 1176.4 702.1 1177.0 704.0 1177.7 705.9 1178.3 707.8 1178.9 709.7 1179.6 711.6 1180.2 713.5 1180.8 715.4 1181.4 717.3 1182.1 719.2 1182.7 721.1 1183.3 723.0 1183.9 724.9 1184.5 726.8 1185.2 728.7 1185.8 730.6 1186.4 732.6 1187.0 734.5 1187.6 736.4 1188.2 738.3 1188.8 740.2 1189.4 742.1 1190.0 744.0 1190.6 745.9 1191.3 747.8 1191.9 749.7 1192.5 751.6 1193.1 753.5 1193.8 755.4 1194.4 757.3 1195.0 759.2 1195.7 761.1 1196.3 763.0 1197.0 764.9 1197.6 766.7 1198.3 768.6 1199.0 770.5 1199.6 772.4 1200.3 774.3 1201.0 776.2 1201.6 778.1 1202.3 779.9 1203.0 781.8 1203.6 783.7 1204.3 785.6 1205.0 787.5 1205.7 789.3 1206.4 791.2 1207.1 793.1 1207.8 795.0 1208.5 796.8 1209.2 798.7 1209.9 800.6 1210.6 802.5 1211.3 804.3 1212.0 806.2 1212.7 808.1 1213.5 809.9 1214.2 811.8 1214.9 813.7 1215.7 815.5 1216.4 817.4 1217.1 819.2 1217.9 821.1 1218.6 823.0 1219.3 824.8 1220.1 826.7 1220.8 828.5 1221.6 830.4 1222.3 832.2 1223.0 834.1 1223.8 836.0 1224.5 837.8 1225.3 839.7 1226.0 841.5 1226.8 843.4 1227.5 845.2 1228.2 847.1 1229.0 849.0 1229.7 850.8 1230.5 852.7 1231.2 854.5 1232.0 856.4 1232.7 858.2 1233.4 860.1 1234.2 862.0 1234.9 863.8 1235.7 865.7 1236.4 867.5 1237.2 869.4 1237.9 871.2 1238.6 873.1 1239.4 875.0 1240.1 876.8 1240.9 878.7 1241.6 880.5 1242.4 882.4 1243.1 884.2 1243.9 886.1 1244.7 887.9 1245.5 889.8 1246.3 891.6 1247.1 893.4 1247.9 895.3 1248.7 897.1 1249.5 898.9 1250.3 900.7 1251.1 902.6 1252.0 904.4 1252.8 906.2 1253.6 908.0 1254.5 909.8 1255.3 911.6 1256.1 913.5 1257.0 915.3 1257.8 917.1 1258.7 918.9 1259.5 920.7 1260.4 922.5 1261.2 924.3 1262.1 926.1 1263.0 927.9 1263.9 929.7 1264.8 931.5 1265.7 933.3 1266.6 935.1 1267.5 936.8 1268.4 938.6 1269.3 940.4 1270.2 942.2 1271.2 944.0 1272.1 945.7 1273.0 947.5 1273.9 949.3 1274.9 951.0 1275.8 952.8 1276.7 954.6 1277.7 956.3 1278.6 958.1 1279.6 959.9 1280.5 961.6 1281.5 963.4 1282.5 965.1 1283.4 966.9 1284.4 968.6 1285.4 970.4 1286.3 972.1 1287.3 973.9 1288.3 975.6 1289.3 977.3 1290.3 979.1 1291.3 980.8 1292.3 982.5 1293.3 984.3 1294.3 986.0 1295.3 987.7 1296.3 989.4 1297.4 991.2 1298.4 992.9 1299.4 994.6 1300.4 996.3 1301.5 998.0 1302.5 999.7 1303.6 1001.4 1304.6 1003.1 1305.7 1004.8 1306.7 1006.5 1307.8 1008.2 1308.8 1009.9 1309.9 1011.6 1311.0 1013.3 1312.0 1015.0 1313.1 1016.7 1314.2 1018.4 1315.3 1020.1 1316.4 1021.7 1317.4 1023.4 1318.5 1025.1 1319.6 1026.8 1320.8 1028.4 1321.9 1030.1 1323.0 1031.7 1324.1 1033.4 1325.3 1035.0 1326.4 1036.7 1327.6 1038.3 1328.7 1039.9 1329.9 1041.5 1331.1 1043.2 1332.3 1044.8 1333.5 1046.4 1334.7 1048.0 1335.9 1049.6 1337.1 1051.2 1338.3 1052.7 1339.5 1054.3 1340.8 1055.9 1342.0 1057.4 1343.3 1059.0 1344.5 1060.5 1345.8 1062.1 1347.1 1063.6 1348.4 1065.1 1349.7 1066.6 1351.1 1068.1 1352.4 1069.6 1353.7 1071.1 1355.1 1072.6 1356.4 1074.0 1357.8 1075.5 1359.2 1076.9 1360.6 1078.4 1362.0 1079.8 1363.4 1081.2 1364.8 1082.6 1366.3 1084.0 1367.7 1085.4 1369.2 1086.7 1370.7 1088.1 1372.2 1089.4 1373.7 1090.7 1375.2 1091.9 1376.8 1093.2 1378.4 1094.4 1380.0 1095.6 1381.6 1096.8 1383.2 1097.9 1384.9 1099.1 1386.5 1100.2 1388.2 1101.3 1389.8 1102.4 1391.5 1103.5 1393.2 1104.7 1394.8 1105.8 1396.5 1106.9 1398.1 1108.1 1399.7 1109.2 1401.4 1110.4 1403.0 1111.6 1404.6 1112.8 1406.2 1114.0 1407.7 1115.2 1409.3 1116.4 1410.9 1117.7 1412.5 1118.9 1414.1 1120.1 1415.6 1121.3 1417.2 1122.5 1418.8 1123.7 1420.5 1124.9 1422.1 1126.1 1423.7 1127.2 1425.4 1128.3 1427.1 1129.4 1428.7 1130.5 1430.5 1131.5 1432.2 1132.5 1433.9 1133.5 1435.7 1134.5 1437.4 1135.4 1439.2 1136.4 1440.9 1137.3 1442.7 1138.2 1444.5 1139.1 1446.3 1140.0 1448.1 1140.9 1449.9 1141.7 1451.7 1142.6 1453.5 1143.4 1455.3 1144.3 1457.2 1145.1 1459.0 1145.9 1460.8 1146.7 1462.7 1147.5 1464.5 1148.3 1466.3 1149.0 1468.2 1149.8 1470.0 1150.6 1471.9 1151.3 1473.8 1152.0 1475.6 1152.8 1477.5 1153.5 1479.4 1154.2 1481.2 1154.9 1483.1 1155.6 1485.0 1156.3 1486.9 1156.9 1488.8 1157.6 1490.7 1158.2 1492.6 1158.8 1494.5 1159.4 1496.4 1160.0 1498.3 1160.6 1500.2 1161.2 1502.1 1161.8 1504.0 1162.4 1506.0 1162.9 1507.9 1163.5 1509.8 1164.0 1511.7 1164.5 1513.7 1165.1 1515.6 1165.6 1517.5 1166.1 1519.5 1166.6 1521.4 1167.1 1523.3 1167.6 1525.3 1168.1 1527.2 1168.6 1529.2 1169.1 1531.1 1169.5 1533.0 1170.0 1535.0 1170.4 1536.9 1170.9 1538.9 1171.3 1540.8 1171.8 1542.8 1172.2 1544.7 1172.6 1546.7 1173.0 1548.7 1173.4 1550.6 1173.8 1552.6 1174.2 1554.5 1174.6 1556.5 1175.0 1558.5 1175.3 1560.4 1175.7 1562.4 1176.1 1564.4 1176.4 1566.4 1176.8 1568.3 1177.1 1570.3 1177.4 1572.3 1177.8 1574.2 1178.1 1576.2 1178.4 1578.2 1178.7 1580.2 1179.0 1582.1 1179.3 1584.1 1179.6 1586.1 1179.9 1588.1 1180.2 1590.1 1180.4 1592.0 1180.7 1594.0 1180.9 1596.0 1181.2 1598.0 1181.4 1600.0 1181.7 1602.0 1181.9 1604.0 1182.1 1605.9 1182.4 1607.9 1182.6 1609.9 1182.8 1611.9 1183.0 1613.9 1183.2 1615.9 1183.4 1617.9 1183.6 1619.9 1183.8 1621.9 1184.0 1623.9 1184.1 1625.9 1184.3 1627.8 1184.5 1629.8 1184.6 1631.8 1184.8 1633.8 1185.0 1635.8 1185.1 1637.8 1185.2 1639.8 1185.4 1641.8 1185.5 1643.8 1185.6 1645.8 1185.8 1647.8 1185.9 1649.8 1186.0 1651.8 1186.1 1653.8 1186.2 1655.8 1186.4 1657.8 1186.5 1659.8 1186.6 1661.8 1186.7 1663.8 1186.8 1665.8 1186.9 1667.8 1187.0 1669.8 1187.1 1671.8 1187.2 1673.8 1187.3 1675.7 1187.4 1677.7 1187.5 1679.7 1187.6 1681.7 1187.7 1683.7 1187.8 1685.6 1187.9 1687.6 1188.0 1689.5 1188.1 1691.4 1188.2 1693.3 1188.3 1695.1 1188.4 1697.0 1188.5" stroke="#f00" stroke-width="4.4"/>
<path d="M682.1 1190.3L684.1 1190.3 686.1 1190.2 688.1 1190.2 690.1 1190.1 692.1 1190.1 694.1 1190.1 696.1 1190.0 698.1 1190.0 700.1 1189.9 702.1 1189.9 704.1 1189.9 706.1 1189.8 708.1 1189.8 710.1 1189.7 712.1 1189.6 714.1 1189.6 716.1 1189.5 718.1 1189.4 720.1 1189.3 722.1 1189.2 724.1 1189.1 726.1 1189.0 728.1 1188.9 730.1 1188.8 732.1 1188.7 734.1 1188.5 736.1 1188.4 738.1 1188.3 740.0 1188.1 742.0 1188.0 744.0 1187.8 746.0 1187.6 748.0 1187.5 750.0 1187.3 752.0 1187.1 754.0 1187.0 756.0 1186.8 758.0 1186.6 760.0 1186.4 762.0 1186.2 764.0 1186.0 765.9 1185.8 767.9 1185.6 769.9 1185.3 771.9 1185.1 773.9 1184.9 775.9 1184.6 777.9 1184.4 779.8 1184.2 781.8 1183.9 783.8 1183.7 785.8 1183.4 787.8 1183.2 789.8 1182.9 791.7 1182.7 793.7 1182.5 795.7 1182.3 797.7 1182.2 799.6 1181.9 801.5 1181.4 803.4 1180.7 805.2 1179.9 807.0 1179.0 808.8 1178.1 810.5 1177.1 812.2 1176.1 813.9 1175.1 815.6 1174.0 817.3 1172.9 818.9 1171.8 820.6 1170.6 822.2 1169.4 823.7 1168.2 825.3 1166.9 826.8 1165.6 828.2 1164.2 829.7 1162.9 831.1 1161.4 832.4 1160.0 833.7 1158.5 835.0 1157.0 836.3 1155.4 837.5 1153.8 838.6 1152.2 839.7 1150.5 840.8 1148.8 841.8 1147.1 842.8 1145.4 843.8 1143.6 844.7 1141.9 845.6 1140.1 846.5 1138.3 847.3 1136.5 848.2 1134.7 848.9 1132.8 849.7 1131.0 850.5 1129.1 851.2 1127.3 851.9 1125.4 852.6 1123.5 853.2 1121.6 853.9 1119.7 854.5 1117.8 855.1 1115.9 855.7 1114.0 856.3 1112.1 856.9 1110.2 857.5 1108.3 858.1 1106.4 858.7 1104.5 859.2 1102.6 859.7 1100.6 860.3 1098.7 860.8 1096.8 861.3 1094.8 861.8 1092.9 862.2 1090.9 862.7 1089.0 863.2 1087.1 863.7 1085.1 864.2 1083.2 864.7 1081.3 865.2 1079.3 865.7 1077.4 866.3 1075.5 866.8 1073.6 867.4 1071.6 868.0 1069.7 868.5 1067.8 869.1 1065.9 869.6 1064.0 870.2 1062.0 870.7 1060.1 871.1 1058.2 871.5 1056.2 871.9 1054.3 872.3 1052.3 872.7 1050.3 873.0 1048.4 873.4 1046.4 873.7 1044.4 874.0 1042.4 874.3 1040.5 874.6 1038.5 874.9 1036.5 875.2 1034.5 875.5 1032.6 875.8 1030.6 876.1 1028.6 876.4 1026.6 876.7 1024.6 877.0 1022.7 877.3 1020.7 877.6 1018.7 877.9 1016.7 878.2 1014.8 878.5 1012.8 878.8 1010.8 879.1 1008.8 879.4 1006.8 879.7 1004.9 880.0 1002.9 880.2 1000.9 880.5 998.9 880.8 996.9 881.1 995.0 881.4 993.0 881.7 991.0 882.0 989.0 882.3 987.1 882.6 985.1 882.9 983.1 883.2 981.1 883.5 979.1 883.8 977.2 884.1 975.2 884.4 973.2 884.7 971.2 885.0 969.3 885.3 967.3 885.6 965.3 885.9 963.3 886.2 961.4 886.5 959.4 886.8 957.4 887.1 955.4 887.4 953.4 887.7 951.5 888.0 949.5 888.3 947.5 888.6 945.5 888.9 943.6 889.1 941.6 889.4 939.6 889.7 937.6 890.0 935.6 890.3 933.6 890.5 931.7 890.8 929.7 891.1 927.7 891.3 925.7 891.6 923.7 891.8 921.8 892.1 919.8 892.3 917.8 892.6 915.8 892.8 913.8 893.1 911.8 893.3 909.8 893.5 907.9 893.8 905.9 894.0 903.9 894.3 901.9 894.5 899.9 894.8 897.9 895.0 895.9 895.2 894.0 895.5 892.0 895.7 890.0 896.0 888.0 896.2 886.0 896.5 884.0 896.7 882.1 897.0 880.1 897.2 878.1 897.4 876.1 897.7 874.1 897.9 872.1 898.2 870.1 898.4 868.2 898.7 866.2 898.9 864.2 899.2 862.2 899.4 860.2 899.7 858.2 899.9 856.2 900.2 854.3 900.4 852.3 900.7 850.3 900.9 848.3 901.2 846.3 901.4 844.3 901.7 842.4 902.0 840.4 902.2 838.4 902.5 836.4 902.7 834.4 903.0 832.4 903.3 830.5 903.5 828.5 903.8 826.5 904.1 824.5 904.3 822.5 904.6 820.6 904.9 818.6 905.1 816.6 905.4 814.6 905.6 812.6 905.9 810.6 906.2 808.7 906.4 806.7 906.7 804.7 906.9 802.7 907.2 800.7 907.4 798.7 907.7 796.8 908.0 794.8 908.2 792.8 908.5 790.8 908.8 788.8 909.1 786.9 909.3 784.9 909.7 782.9 910.0 780.9 910.3 778.9 910.6 777.0 911.0 775.0 911.3 773.0 911.7 771.1 912.0 769.1 912.4 767.1 912.7 765.2 913.1 763.2 913.4 761.2 913.7 759.3 914.0 757.3 914.3 755.3 914.6 753.3 914.8 751.3 915.1 749.3 915.3 747.4 915.5 745.4 915.7 743.4 915.9 741.4 916.2 739.4 916.4 737.4 916.5 735.4 916.7 733.4 916.9 731.4 917.1 729.5 917.3 727.5 917.5 725.5 917.7 723.5 917.9 721.5 918.0 719.5 918.2 717.5 918.4 715.5 918.6 713.5 918.7 711.5 918.9 709.5 919.1 707.5 919.3 705.6 919.5 703.6 919.6 701.6 919.8 699.6 920.0 697.6 920.1 695.6 920.3 693.6 920.5 691.6 920.6 689.6 920.8 687.6 921.0 685.6 921.1 683.6 921.3 681.6 921.4 679.6 921.6 677.6 921.8 675.7 921.9 673.7 922.1 671.7 922.2 669.7 922.4 667.7 922.6 665.7 922.7 663.7 922.9 661.7 923.1 659.7 923.2 657.7 923.4 655.7 923.6 653.7 923.7 651.7 923.9 649.7 924.1 647.8 924.2 645.8 924.4 643.8 924.6 641.8 924.7 639.8 924.9 637.8 925.1 635.8 925.3 633.8 925.4 631.8 925.6 629.8 925.8 627.8 925.9 625.8 926.1 623.8 926.3 621.8 926.4 619.9 926.6 617.9 926.8 615.9 926.9 613.9 927.1 611.9 927.3 609.9 927.4 607.9 927.6 605.9 927.8 603.9 927.9 601.9 928.1 599.9 928.3 597.9 928.4 595.9 928.6 593.9 928.7 591.9 928.9 590.0 929.1 588.0 929.2 586.0 929.4 584.0 929.5 582.0 929.7 580.0 929.9 578.0 930.0 576.0 930.2 574.0 930.4 572.0 930.5 570.0 930.7 568.0 930.9 566.0 931.1 564.0 931.2 562.0 931.4 560.1 931.6 558.1 931.8 556.1 931.9 554.1 932.1 552.1 932.3 550.1 932.5 548.1 932.7 546.1 932.8 544.1 933.0 542.1 933.2 540.1 933.4 538.1 933.6 536.2 933.8 534.2 934.0 532.2 934.2 530.2 934.4 528.2 934.6 526.2 934.8 524.2 935.0 522.2 935.2 520.2 935.4 518.2 935.6 516.3 935.8 514.3 936.0 512.3 936.2 510.3 936.5 508.3 936.7 506.3 936.9 504.3 937.1 502.3 937.4 500.4 937.6 498.4 937.8 496.4 938.1 494.4 938.3 492.4 938.6 490.4 938.8 488.4 939.1 486.5 939.3 484.5 939.6 482.5 939.8 480.5 940.1 478.5 940.3 476.5 940.6 474.6 940.9 472.6 941.1 470.6 941.4 468.6 941.7 466.6 941.9 464.7 942.2 462.7 942.5 460.7 942.8 458.7 943.1 456.7 943.4 454.7 943.6 452.8 943.9 450.8 944.2 448.8 944.5 446.8 944.8 444.9 945.1 442.9 945.4 440.9 945.7 438.9 946.0 436.9 946.3 435.0 946.6 433.0 946.9 431.0 947.2 429.0 947.5 427.1 947.8 425.1 948.2 423.1 948.5 421.1 948.8 419.2 949.1 417.2 949.4 415.2 949.7 413.2 950.0 411.3 950.3 409.3 950.7 407.3 951.0 405.3 951.3 403.4 951.6 401.4 952.0 399.4 952.3 397.4 952.6 395.5 953.0 393.5 953.3 391.5 953.7 389.6 954.0 387.6 954.4 385.6 954.7 383.7 955.1 381.7 955.5 379.7 955.9 377.8 956.3 375.8 956.7 373.8 957.1 371.9 957.5 369.9 957.9 368.0 958.3 366.0 958.7 364.1 959.1 362.1 959.6 360.2 960.0 358.2 960.5 356.3 960.9 354.3 961.4 352.4 961.9 350.4 962.3 348.5 962.8 346.5 963.3 344.6 963.8 342.7 964.3 340.7 964.8 338.8 965.4 336.9 965.9 334.9 966.4 333.0 967.0 331.1 967.6 329.2 968.2 327.3 968.8 325.4 969.5 323.5 970.2 321.6 970.9 319.8 971.7 317.9 972.6 316.1 973.4 314.3 974.4 312.6 975.5 310.9 976.7 309.3 978.0 307.9 979.5 306.6 981.2 305.6 983.1 304.9 985.0 304.6 986.9 304.7 988.7 305.4 990.5 306.3 992.1 307.5 993.5 308.8 994.9 310.3 996.1 311.9 997.1 313.6 998.1 315.4 998.9 317.2 999.7 319.0 1000.5 320.9 1001.3 322.7 1002.1 324.5 1002.9 326.3 1003.7 328.2 1004.6 330.0 1005.4 331.8 1006.2 333.6 1007.0 335.4 1007.8 337.3 1008.6 339.1 1009.4 340.9 1010.2 342.8 1011.0 344.6 1011.8 346.5 1012.5 348.3 1013.3 350.2 1014.1 352.0 1014.8 353.9 1015.6 355.7 1016.3 357.6 1017.1 359.4 1017.8 361.3 1018.6 363.1 1019.3 365.0 1020.1 366.8 1020.8 368.7 1021.6 370.5 1022.4 372.4 1023.2 374.2 1024.0 376.0 1024.8 377.8 1025.6 379.7 1026.4 381.5 1027.2 383.3 1028.0 385.2 1028.8 387.0 1029.6 388.9 1030.4 390.7 1031.1 392.6 1031.8 394.4 1032.6 396.3 1033.3 398.1 1034.0 400.0 1034.7 401.9 1035.4 403.8 1036.1 405.6 1036.8 407.5 1037.5 409.4 1038.2 411.3 1038.9 413.1 1039.6 415.0 1040.4 416.8 1041.1 418.7 1041.9 420.5 1042.6 422.4 1043.4 424.2 1044.3 426.1 1045.1 427.9 1045.9 429.7 1046.8 431.5 1047.7 433.3 1048.6 435.1 1049.5 436.9 1050.4 438.6 1051.3 440.4 1052.2 442.2 1053.2 443.9 1054.2 445.7 1055.1 447.4 1056.1 449.2 1057.1 450.9 1058.1 452.6 1059.2 454.3 1060.2 456.0 1061.2 457.8 1062.3 459.4 1063.4 461.1 1064.4 462.8 1065.5 464.5 1066.7 466.1 1067.8 467.8 1069.0 469.4 1070.2 471.0 1071.4 472.6 1072.7 474.1 1074.0 475.6 1075.3 477.1 1076.6 478.6 1077.9 480.1 1079.2 481.6 1080.6 483.1 1081.9 484.6 1083.2 486.2 1084.5 487.7 1085.8 489.2 1087.1 490.7 1088.3 492.3 1089.6 493.8 1090.9 495.3 1092.1 496.9 1093.4 498.5 1094.7 500.0 1095.9 501.6 1097.1 503.1 1098.4 504.7 1099.6 506.3 1100.8 507.9 1102.0 509.5 1103.2 511.1 1104.3 512.7 1105.4 514.4 1106.5 516.1 1107.6 517.8 1108.6 519.5 1109.6 521.2 1110.6 523.0 1111.5 524.7 1112.4 526.5 1113.3 528.3 1114.2 530.1 1115.0 531.9 1115.9 533.7 1116.7 535.5 1117.5 537.4 1118.3 539.2 1119.0 541.1 1119.8 542.9 1120.5 544.8 1121.2 546.6 1121.9 548.5 1122.6 550.4 1123.3 552.3 1124.0 554.2 1124.6 556.0 1125.3 557.9 1125.9 559.8 1126.6 561.7 1127.2 563.6 1127.9 565.5 1128.5 567.4 1129.1 569.3 1129.8 571.2 1130.4 573.1 1131.0 575.0 1131.6 576.9 1132.3 578.8 1132.9 580.7 1133.5 582.6 1134.2 584.5 1134.8 586.4 1135.5 588.3 1136.1 590.1 1136.8 592.0 1137.5 593.9 1138.1 595.8 1138.8 597.7 1139.5 599.6 1140.2 601.4 1140.9 603.3 1141.5 605.2 1142.2 607.1 1142.9 609.0 1143.6 610.8 1144.2 612.7 1144.9 614.6 1145.6 616.5 1146.2 618.4 1146.9 620.3 1147.5 622.2 1148.1 624.1 1148.8 626.0 1149.4 627.9 1150.0 629.8 1150.7 631.7 1151.3 633.6 1151.9 635.5 1152.5 637.4 1153.1 639.3 1153.7 641.2 1154.3 643.1 1154.9 645.0 1155.5 646.9 1156.1 648.8 1156.7 650.7 1157.3 652.7 1157.9 654.6 1158.5 656.5 1159.1 658.4 1159.6 660.3 1160.2 662.2 1160.8 664.1 1161.4 666.0 1162.0 668.0 1162.5 669.9 1163.1 671.8 1163.7 673.7 1164.3 675.6 1164.8 677.5 1165.4 679.4 1166.0 681.4 1166.6 683.3 1167.1 685.2 1167.7 687.1 1168.3 689.0 1169.0 690.9 1169.6 692.8 1170.3 694.7 1170.9 696.6 1171.6 698.4 1172.3 700.3 1173.1 702.2 1173.8 704.0 1174.5 705.9 1175.2 707.8 1175.9 709.6 1176.6 711.5 1177.3 713.4 1177.9 715.3 1178.5 717.2 1179.2 719.1 1179.8 721.0 1180.4 722.9 1181.1 724.8 1181.7 726.7 1182.3 728.6 1182.9 730.5 1183.5 732.4 1184.2 734.3 1184.8 736.2 1185.4 738.1 1186.1 740.0 1186.7 741.9 1187.3 743.8 1188.0 745.7 1188.6 747.6 1189.3 749.5 1189.9 751.3 1190.5 753.2 1191.2 755.1 1191.8 757.0 1192.5 758.9 1193.2 760.8 1193.8 762.7 1194.5 764.6 1195.2 766.4 1195.8 768.3 1196.5 770.2 1197.2 772.1 1197.9 774.0 1198.6 775.9 1199.3 777.7 1199.9 779.6 1200.6 781.5 1201.3 783.4 1202.0 785.3 1202.7 787.1 1203.3 789.0 1204.0 790.9 1204.7 792.8 1205.4 794.7 1206.1 796.5 1206.8 798.4 1207.4 800.3 1208.1 802.2 1208.8 804.0 1209.5 805.9 1210.3 807.8 1211.0 809.7 1211.7 811.5 1212.4 813.4 1213.1 815.2 1213.9 817.1 1214.6 819.0 1215.4 820.8 1216.1 822.7 1216.8 824.5 1217.6 826.4 1218.3 828.2 1219.1 830.1 1219.8 832.0 1220.6 833.8 1221.3 835.7 1222.0 837.5 1222.8 839.4 1223.5 841.2 1224.3 843.1 1225.0 845.0 1225.8 846.8 1226.5 848.7 1227.2 850.5 1228.0 852.4 1228.7 854.2 1229.5 856.1 1230.2 858.0 1231.0 859.8 1231.7 861.7 1232.4 863.5 1233.2 865.4 1233.9 867.2 1234.7 869.1 1235.4 871.0 1236.2 872.8 1236.9 874.7 1237.6 876.5 1238.4 878.4 1239.1 880.2 1239.9 882.1 1240.6 884.0 1241.4 885.8 1242.1 887.7 1242.9 889.5 1243.6 891.4 1244.4 893.2 1245.2 895.1 1246.0 896.9 1246.7 898.7 1247.5 900.6 1248.3 902.4 1249.1 904.2 1249.9 906.1 1250.8 907.9 1251.6 909.7 1252.4 911.5 1253.2 913.4 1254.0 915.2 1254.8 917.0 1255.6 918.8 1256.5 920.7 1257.3 922.5 1258.1 924.3 1258.9 926.1 1259.8 928.0 1260.6 929.8 1261.5 931.6 1262.3 933.4 1263.2 935.2 1264.0 937.0 1264.9 938.8 1265.8 940.6 1266.7 942.4 1267.6 944.2 1268.5 945.9 1269.4 947.7 1270.3 949.5 1271.3 951.3 1272.2 953.0 1273.1 954.8 1274.1 956.6 1275.0 958.3 1276.0 960.1 1276.9 961.9 1277.9 963.6 1278.8 965.4 1279.8 967.1 1280.8 968.9 1281.8 970.6 1282.7 972.4 1283.7 974.1 1284.7 975.9 1285.6 977.6 1286.6 979.4 1287.6 981.1 1288.5 982.9 1289.5 984.6 1290.5 986.4 1291.5 988.1 1292.4 989.8 1293.4 991.6 1294.4 993.3 1295.5 995.0 1296.5 996.7 1297.5 998.5 1298.5 1000.2 1299.6 1001.9 1300.6 1003.6 1301.7 1005.3 1302.8 1007.0 1303.8 1008.6 1304.9 1010.3 1306.0 1012.0 1307.1 1013.7 1308.2 1015.4 1309.3 1017.0 1310.4 1018.7 1311.5 1020.4 1312.6 1022.1 1313.7 1023.7 1314.8 1025.4 1315.9 1027.0 1317.0 1028.7 1318.2 1030.3 1319.3 1032.0 1320.5 1033.6 1321.7 1035.2 1322.9 1036.8 1324.0 1038.4 1325.2 1040.0 1326.4 1041.6 1327.6 1043.2 1328.9 1044.8 1330.1 1046.4 1331.3 1048.0 1332.5 1049.6 1333.7 1051.2 1334.9 1052.8 1336.1 1054.4 1337.3 1056.0 1338.5 1057.6 1339.7 1059.2 1340.9 1060.8 1342.1 1062.4 1343.3 1064.0 1344.5 1065.6 1345.8 1067.1 1347.0 1068.7 1348.3 1070.2 1349.6 1071.8 1350.8 1073.3 1352.1 1074.8 1353.4 1076.4 1354.7 1077.9 1356.1 1079.3 1357.4 1080.8 1358.8 1082.3 1360.2 1083.7 1361.6 1085.2 1363.0 1086.6 1364.4 1088.0 1365.9 1089.3 1367.3 1090.7 1368.8 1092.0 1370.3 1093.4 1371.8 1094.7 1373.4 1095.9 1374.9 1097.2 1376.5 1098.4 1378.1 1099.6 1379.7 1100.8 1381.3 1101.9 1383.0 1103.0 1384.7 1104.1 1386.4 1105.2 1388.1 1106.3 1389.8 1107.3 1391.5 1108.3 1393.2 1109.4 1394.9 1110.4 1396.6 1111.4 1398.3 1112.4 1400.0 1113.5 1401.7 1114.5 1403.4 1115.6 1405.1 1116.7 1406.8 1117.7 1408.5 1118.8 1410.1 1119.9 1411.8 1121.1 1413.5 1122.2 1415.1 1123.3 1416.8 1124.4 1418.4 1125.5 1420.1 1126.6 1421.8 1127.7 1423.4 1128.8 1425.1 1129.9 1426.8 1130.9 1428.6 1132.0 1430.3 1132.9 1432.0 1133.9 1433.8 1134.9 1435.6 1135.8 1437.4 1136.7 1439.2 1137.5 1441.0 1138.4 1442.8 1139.2 1444.6 1140.1 1446.4 1140.9 1448.3 1141.6 1450.1 1142.4 1452.0 1143.2 1453.8 1143.9 1455.7 1144.6 1457.6 1145.3 1459.4 1146.0 1461.3 1146.7 1463.2 1147.3 1465.1 1148.0 1467.0 1148.6 1468.9 1149.2 1470.8 1149.8 1472.7 1150.4 1474.6 1151.0 1476.5 1151.7 1478.4 1152.3 1480.3 1152.9 1482.2 1153.5 1484.2 1154.1 1486.1 1154.7 1488.0 1155.2 1489.9 1155.8 1491.8 1156.4 1493.7 1157.0 1495.6 1157.6 1497.5 1158.2 1499.5 1158.7 1501.4 1159.3 1503.3 1159.9 1505.2 1160.4 1507.1 1160.9 1509.1 1161.5 1511.0 1162.0 1512.9 1162.5 1514.9 1163.0 1516.8 1163.5 1518.8 1164.0 1520.7 1164.4 1522.6 1164.9 1524.6 1165.3 1526.5 1165.8 1528.5 1166.2 1530.4 1166.7 1532.4 1167.1 1534.4 1167.5 1536.3 1167.9 1538.3 1168.3 1540.2 1168.7 1542.2 1169.1 1544.2 1169.5 1546.1 1169.9 1548.1 1170.3 1550.0 1170.7 1552.0 1171.1 1554.0 1171.4 1555.9 1171.8 1557.9 1172.1 1559.9 1172.5 1561.8 1172.8 1563.8 1173.2 1565.8 1173.5 1567.8 1173.8 1569.7 1174.1 1571.7 1174.4 1573.7 1174.7 1575.7 1175.0 1577.6 1175.3 1579.6 1175.6 1581.6 1175.8 1583.6 1176.1 1585.6 1176.3 1587.6 1176.5 1589.6 1176.8 1591.5 1177.0 1593.5 1177.2 1595.5 1177.4 1597.5 1177.6 1599.5 1177.8 1601.5 1178.0 1603.5 1178.2 1605.5 1178.4 1607.5 1178.6 1609.5 1178.8 1611.4 1179.0 1613.4 1179.2 1615.4 1179.3 1617.4 1179.5 1619.4 1179.7 1621.4 1179.9 1623.4 1180.0 1625.4 1180.2 1627.4 1180.4 1629.4 1180.5 1631.4 1180.7 1633.4 1180.8 1635.4 1181.0 1637.4 1181.1 1639.3 1181.3 1641.3 1181.5 1643.3 1181.6 1645.3 1181.7 1647.3 1181.9 1649.3 1182.0 1651.3 1182.2 1653.3 1182.3 1655.3 1182.4 1657.3 1182.6 1659.3 1182.7 1661.3 1182.8 1663.3 1183.0 1665.3 1183.1 1667.3 1183.2 1669.3 1183.4 1671.3 1183.5 1673.3 1183.6 1675.3 1183.8 1677.3 1183.9 1679.2 1184.0 1681.2 1184.1 1683.2 1184.3 1685.2 1184.4 1687.2 1184.5 1689.2 1184.7 1691.1 1184.8 1693.1 1184.9 1695.0 1185.1 1697.0 1185.2" stroke="#00f" stroke-width="4.4"/>
</g>
<g font-size="70">
<g transform="translate(249 1208.3) scale(0.965 1)"><text x="-38.93" y="0">0</text></g>
<g transform="translate(249 896.9) scale(0.965 1)"><g transform="translate(-116.79 0.00)"><text x="0" y="0" font-size="70" clip-path="url(#c1r70)">1</text></g><text x="-77.86" y="0">00</text></g>
<g transform="translate(249 585.5) scale(0.965 1)"><text x="-116.79" y="0">200</text></g>
<g transform="translate(249 274.1) scale(0.965 1)"><text x="-116.79" y="0">300</text></g>
<g transform="translate(506.1 1329.8) scale(0.965 1)"><text x="-58.40" y="0">350</text></g>
<g transform="translate(776.9 1329.8) scale(0.965 1)"><text x="-58.40" y="0">400</text></g>
<g transform="translate(1047.8 1329.8) scale(0.965 1)"><text x="-58.40" y="0">450</text></g>
<g transform="translate(1318.6 1329.8) scale(0.965 1)"><text x="-58.40" y="0">500</text></g>
<g transform="translate(1589.5 1329.8) scale(0.965 1)"><text x="-58.40" y="0">550</text></g>
<g transform="translate(1738.5 1210.7) scale(0.965 1)"><text x="0" y="0">0.0</text></g>
<g transform="translate(1738.5 766.5) scale(0.965 1)"><text x="0" y="0">0.5</text></g>
<g transform="translate(1738.5 322.3) scale(0.965 1)"><g transform="translate(0.00 0.00)"><text x="0" y="0" font-size="70" clip-path="url(#c1r70)">1</text></g><text x="38.93" y="0">.0</text></g>
</g>
<path d="M1373.5 134H1531.5" stroke="#000" stroke-width="4.8" fill="none"/>
<g transform="translate(1547.70 158.90)"><text x="0" y="0" font-size="72" font-weight="bold" clip-path="url(#c1b72)">1</text></g>
<path d="M1373.5 219H1531.5" stroke="#f00" stroke-width="4.8" fill="none"/>
<text x="1546" y="243.0" font-size="72" font-weight="bold">2</text>
<path d="M1373.5 303.5H1531.5" stroke="#00f" stroke-width="4.8" fill="none"/>
<text x="1546" y="327.6" font-size="72" font-weight="bold">3</text>
<path d="M925 270.7H1062" stroke="#333" stroke-width="4.4" fill="none"/>
<path d="M1059.5 262.5L1093 270.7L1059.5 278.9Z" fill="#000"/>
<path d="M802.5 439.9H706" stroke="#5c5c5c" stroke-width="4.8" fill="none"/>
<path d="M709 431.7L676.5 439.9L709 448.1Z" fill="#000"/>
<g transform="translate(106.3 0) rotate(-90)"><text x="-1005.9" y="0" font-family="'Liberation Serif',serif" font-style="italic" font-size="96">ε</text><text x="-945.5" y="0" font-size="88">(</text><text x="-922.7" y="3.3" font-size="72" font-family="'DejaVu Sans',sans-serif" font-weight="200">×</text><g transform="translate(-842.50 0.00)"><text x="0" y="0" font-size="88" clip-path="url(#c1r88)">1</text></g><text x="-793.56" y="0" font-size="88">0</text><text x="-747.7" y="-36.5" font-size="60">−3</text><text x="-666.5" y="0" font-size="88">/M</text><text x="-568" y="-37" font-size="60">-</text><g transform="translate(-548.02 -37.00)"><text x="0" y="0" font-size="60" clip-path="url(#c1r60)">1</text></g><text x="-519" y="0" font-size="88">cm</text><text x="-403" y="-37" font-size="60">-</text><g transform="translate(-383.02 -37.00)"><text x="0" y="0" font-size="60" clip-path="url(#c1r60)">1</text></g><text x="-346.4" y="0" font-size="88">)</text></g>
<text transform="translate(1912.2 0) rotate(-90)" font-size="90" x="-1196.1 -1132.3 -1085.5 -1058.6 -983.6 -932.1 -914.6 -898.0 -853.9 -808.0 -757.9 -734.6 -677.0 -626.9 -606.7 -581.7 -534.7 -509.8 -462.0 -410.0 -368.0 -348.0 -323.6 -278.6 -258.6 -230.3 -181.9 -157.4 -109.2 -79.4" y="0">Normalized PL Intensity (a.u.)</text>
<text x="0" y="1422.5" font-size="88"><tspan x="915.5" font-family="'Liberation Serif',serif" font-style="italic">λ</tspan><tspan x="975.5">/</tspan><tspan x="1021.3">nm</tspan></text>
</svg>
</body></html>
